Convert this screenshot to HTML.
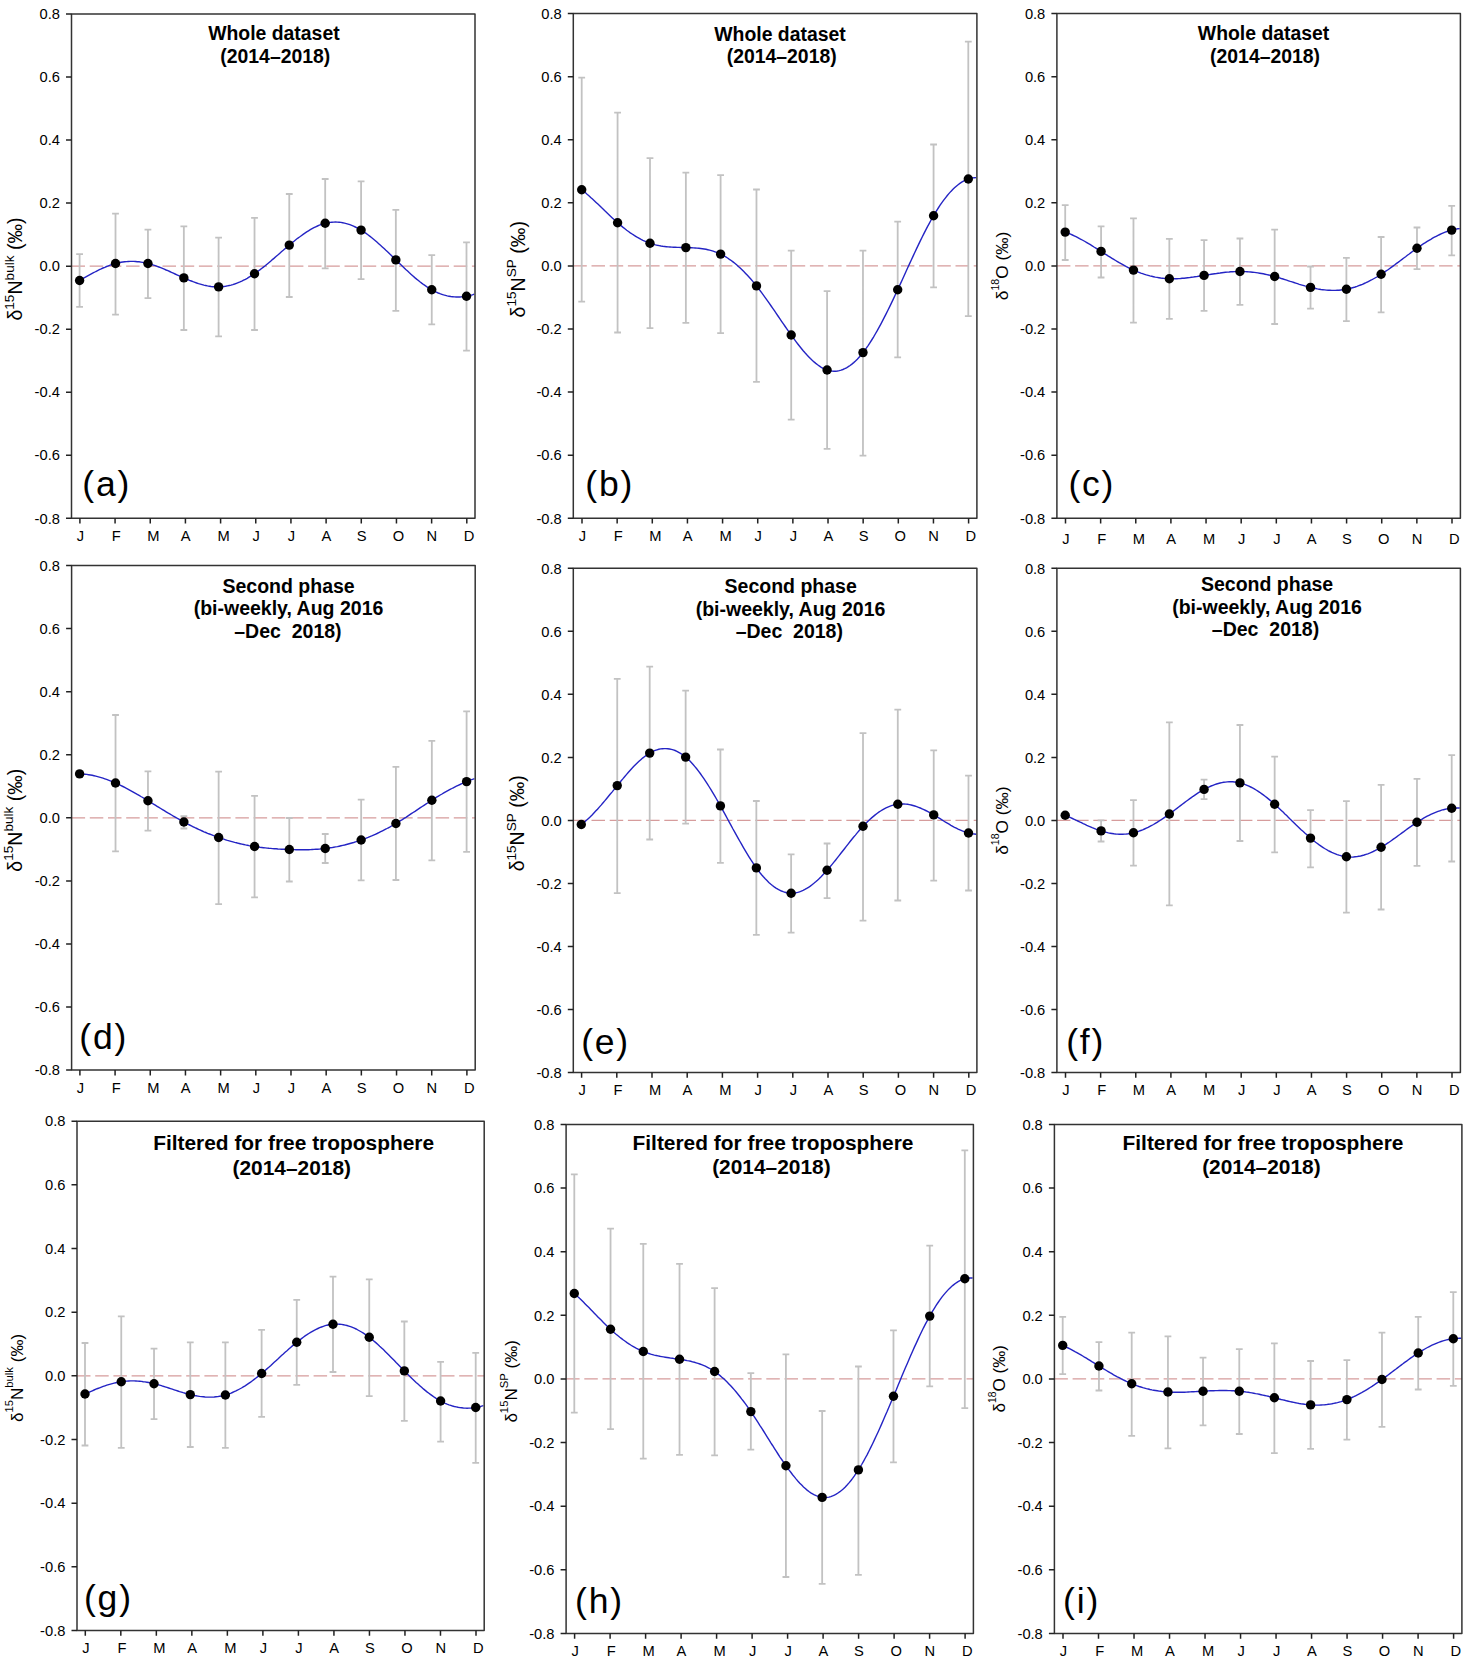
<!DOCTYPE html><html><head><meta charset="utf-8"><style>html,body{margin:0;padding:0;background:#fff}svg{display:block}text{font-family:"Liberation Sans",sans-serif;fill:#000}</style></head><body>
<svg width="1464" height="1659" viewBox="0 0 1464 1659">
<rect width="1464" height="1659" fill="#fff"/>
<g id="pa">
<line x1="71.5" y1="266.15" x2="475" y2="266.15" stroke="#d69c9c" stroke-width="1.2" stroke-dasharray="13.5 4.7"/>
<path d="M79.6 254.2V306.8M76.2 254.2H83M76.2 306.8H83M115.51 213.6V314.7M112.11 213.6H118.91M112.11 314.7H118.91M147.94 229.7V298.2M144.54 229.7H151.34M144.54 298.2H151.34M183.85 226.4V330M180.45 226.4H187.25M180.45 330H187.25M218.61 237.6V336.4M215.21 237.6H222.01M215.21 336.4H222.01M254.52 217.8V330M251.12 217.8H257.92M251.12 330H257.92M289.27 194V297M285.87 194H292.67M285.87 297H292.67M325.18 179V268.4M321.78 179H328.58M321.78 268.4H328.58M361.09 181.3V279.2M357.69 181.3H364.49M357.69 279.2H364.49M395.84 209.8V310.8M392.44 209.8H399.24M392.44 310.8H399.24M431.75 255.2V324.3M428.35 255.2H435.15M428.35 324.3H435.15M466.5 242.4V350.6M463.1 242.4H469.9M463.1 350.6H469.9" stroke="#c2c2c2" stroke-width="1.8" fill="none"/>
<path d="M79.6 280.5 L81.4 279.5 L83.2 278.4 L85.0 277.4 L86.8 276.4 L88.6 275.4 L90.4 274.4 L92.2 273.4 L94.0 272.5 L95.8 271.5 L97.6 270.6 L99.4 269.7 L101.2 268.9 L103.0 268.0 L104.8 267.3 L106.6 266.5 L108.4 265.8 L110.2 265.1 L112.0 264.5 L113.8 264.0 L115.6 263.5 L117.4 263.0 L119.2 262.6 L121.0 262.3 L122.8 262.0 L124.7 261.8 L126.5 261.6 L128.3 261.5 L130.1 261.4 L131.9 261.4 L133.7 261.4 L135.5 261.5 L137.3 261.7 L139.1 261.8 L140.9 262.1 L142.7 262.4 L144.5 262.7 L146.3 263.1 L148.1 263.5 L149.9 264.0 L151.7 264.5 L153.5 265.1 L155.3 265.7 L157.1 266.4 L158.9 267.0 L160.7 267.7 L162.5 268.4 L164.3 269.2 L166.1 270.0 L167.9 270.7 L169.7 271.5 L171.5 272.4 L173.3 273.2 L175.1 274.0 L176.9 274.8 L178.7 275.6 L180.5 276.4 L182.3 277.2 L184.1 278.0 L185.9 278.8 L187.7 279.5 L189.5 280.3 L191.3 281.0 L193.1 281.7 L194.9 282.3 L196.7 283.0 L198.5 283.6 L200.3 284.1 L202.1 284.6 L203.9 285.1 L205.7 285.5 L207.5 285.9 L209.3 286.2 L211.1 286.5 L213.0 286.7 L214.8 286.8 L216.6 286.9 L218.4 286.9 L220.2 286.8 L222.0 286.7 L223.8 286.5 L225.6 286.3 L227.4 285.9 L229.2 285.5 L231.0 285.1 L232.8 284.6 L234.6 284.0 L236.4 283.3 L238.2 282.6 L240.0 281.9 L241.8 281.1 L243.6 280.2 L245.4 279.3 L247.2 278.3 L249.0 277.2 L250.8 276.1 L252.6 275.0 L254.4 273.8 L256.2 272.5 L258.0 271.2 L259.8 269.9 L261.6 268.5 L263.4 267.1 L265.2 265.7 L267.0 264.2 L268.8 262.7 L270.6 261.2 L272.4 259.6 L274.2 258.1 L276.0 256.5 L277.8 255.0 L279.6 253.4 L281.4 251.8 L283.2 250.3 L285.0 248.7 L286.8 247.2 L288.6 245.6 L290.4 244.1 L292.2 242.6 L294.0 241.2 L295.8 239.7 L297.6 238.3 L299.5 237.0 L301.3 235.7 L303.1 234.4 L304.9 233.1 L306.7 231.9 L308.5 230.8 L310.3 229.7 L312.1 228.7 L313.9 227.7 L315.7 226.8 L317.5 226.0 L319.3 225.2 L321.1 224.6 L322.9 224.0 L324.7 223.4 L326.5 223.0 L328.3 222.6 L330.1 222.4 L331.9 222.2 L333.7 222.1 L335.5 222.0 L337.3 222.1 L339.1 222.2 L340.9 222.4 L342.7 222.7 L344.5 223.1 L346.3 223.6 L348.1 224.1 L349.9 224.7 L351.7 225.4 L353.5 226.1 L355.3 227.0 L357.1 227.9 L358.9 228.8 L360.7 229.9 L362.5 231.0 L364.3 232.2 L366.1 233.4 L367.9 234.7 L369.7 236.1 L371.5 237.5 L373.3 239.0 L375.1 240.5 L376.9 242.1 L378.7 243.7 L380.5 245.3 L382.3 246.9 L384.1 248.6 L385.9 250.3 L387.8 252.0 L389.6 253.8 L391.4 255.5 L393.2 257.3 L395.0 259.0 L396.8 260.8 L398.6 262.6 L400.4 264.3 L402.2 266.0 L404.0 267.7 L405.8 269.5 L407.6 271.1 L409.4 272.8 L411.2 274.4 L413.0 276.0 L414.8 277.6 L416.6 279.1 L418.4 280.5 L420.2 282.0 L422.0 283.4 L423.8 284.7 L425.6 285.9 L427.4 287.2 L429.2 288.3 L431.0 289.4 L432.8 290.4 L434.6 291.3 L436.4 292.2 L438.2 293.0 L440.0 293.7 L441.8 294.3 L443.6 294.9 L445.4 295.4 L447.2 295.9 L449.0 296.2 L450.8 296.5 L452.6 296.7 L454.4 296.9 L456.2 297.0 L458.0 297.0 L459.8 297.0 L461.6 296.9 L463.4 296.7 L465.2 296.4 L467.0 296.1 L468.8 295.7 L470.6 295.3 L472.4 294.8 L474.2 294.2" stroke="#2424c4" stroke-width="1.4" fill="none"/>
<circle cx="79.6" cy="280.5" r="4.7" fill="#000"/>
<circle cx="115.51" cy="263.5" r="4.7" fill="#000"/>
<circle cx="147.94" cy="263.5" r="4.7" fill="#000"/>
<circle cx="183.85" cy="277.9" r="4.7" fill="#000"/>
<circle cx="218.61" cy="286.9" r="4.7" fill="#000"/>
<circle cx="254.52" cy="273.7" r="4.7" fill="#000"/>
<circle cx="289.27" cy="245.1" r="4.7" fill="#000"/>
<circle cx="325.18" cy="223.3" r="4.7" fill="#000"/>
<circle cx="361.09" cy="230.1" r="4.7" fill="#000"/>
<circle cx="395.84" cy="259.9" r="4.7" fill="#000"/>
<circle cx="431.75" cy="289.8" r="4.7" fill="#000"/>
<circle cx="466.5" cy="296.2" r="4.7" fill="#000"/>
<path d="M71.5 14H475V518.3H71.5Z" stroke="#333333" stroke-width="1.5" stroke-linejoin="round" fill="none"/>
<path d="M66 14H71.5M66 77.04H71.5M66 140.07H71.5M66 203.11H71.5M66 266.15H71.5M66 329.19H71.5M66 392.22H71.5M66 455.26H71.5M66 518.3H71.5M79.9 518.3V523.6M115.07 518.3V523.6M150.25 518.3V523.6M185.42 518.3V523.6M220.59 518.3V523.6M255.76 518.3V523.6M290.94 518.3V523.6M326.11 518.3V523.6M361.28 518.3V523.6M396.45 518.3V523.6M431.63 518.3V523.6M466.8 518.3V523.6" stroke="#222" stroke-width="1.5" fill="none"/>
<text x="59.9" y="19.2" text-anchor="end" font-size="14.7">0.8</text>
<text x="59.9" y="82.24" text-anchor="end" font-size="14.7">0.6</text>
<text x="59.9" y="145.27" text-anchor="end" font-size="14.7">0.4</text>
<text x="59.9" y="208.31" text-anchor="end" font-size="14.7">0.2</text>
<text x="59.9" y="271.35" text-anchor="end" font-size="14.7">0.0</text>
<text x="59.9" y="334.39" text-anchor="end" font-size="14.7">-0.2</text>
<text x="59.9" y="397.42" text-anchor="end" font-size="14.7">-0.4</text>
<text x="59.9" y="460.46" text-anchor="end" font-size="14.7">-0.6</text>
<text x="59.9" y="523.5" text-anchor="end" font-size="14.7">-0.8</text>
<text x="80.4" y="540.8" text-anchor="middle" font-size="14.7">J</text>
<text x="116.27" y="540.8" text-anchor="middle" font-size="14.7">F</text>
<text x="153.25" y="540.8" text-anchor="middle" font-size="14.7">M</text>
<text x="185.72" y="540.8" text-anchor="middle" font-size="14.7">A</text>
<text x="223.59" y="540.8" text-anchor="middle" font-size="14.7">M</text>
<text x="256.26" y="540.8" text-anchor="middle" font-size="14.7">J</text>
<text x="291.44" y="540.8" text-anchor="middle" font-size="14.7">J</text>
<text x="326.41" y="540.8" text-anchor="middle" font-size="14.7">A</text>
<text x="361.68" y="540.8" text-anchor="middle" font-size="14.7">S</text>
<text x="398.45" y="540.8" text-anchor="middle" font-size="14.7">O</text>
<text x="431.83" y="540.8" text-anchor="middle" font-size="14.7">N</text>
<text x="469.1" y="540.8" text-anchor="middle" font-size="14.7">D</text>
<text x="273.9" y="40" text-anchor="middle" font-size="19.4" font-weight="bold" xml:space="preserve">Whole dataset</text>
<text x="275.3" y="62.6" text-anchor="middle" font-size="19.4" font-weight="bold" xml:space="preserve">(2014–2018)</text>
<text transform="translate(22.3 269) rotate(-90)" x="0" y="0" text-anchor="middle" font-size="19.6" xml:space="preserve">δ<tspan font-size="13.6" dy="-8.7">15</tspan><tspan dy="8.7">N</tspan><tspan font-size="13.6" dy="-8.7">bulk</tspan><tspan dy="8.7"> (‰)</tspan></text>
<text x="82.3" y="495.9" font-size="35.5" letter-spacing="1.8">(a)</text>
</g>
<g id="pb">
<line x1="573.3" y1="265.95" x2="976.9" y2="265.95" stroke="#d69c9c" stroke-width="1.2" stroke-dasharray="13.5 4.7"/>
<path d="M581.7 77.6V301.6M578.3 77.6H585.1M578.3 301.6H585.1M617.58 112.6V332.5M614.18 112.6H620.98M614.18 332.5H620.98M649.99 158.1V328.1M646.59 158.1H653.39M646.59 328.1H653.39M685.87 172.6V322.8M682.47 172.6H689.27M682.47 322.8H689.27M720.6 175.2V333.2M717.2 175.2H724M717.2 333.2H724M756.48 189.5V381.9M753.08 189.5H759.88M753.08 381.9H759.88M791.2 250.6V419.7M787.8 250.6H794.6M787.8 419.7H794.6M827.09 291.1V448.9M823.69 291.1H830.49M823.69 448.9H830.49M862.97 250.6V455.7M859.57 250.6H866.37M859.57 455.7H866.37M897.69 221.7V357.4M894.29 221.7H901.09M894.29 357.4H901.09M933.58 144.5V287.3M930.18 144.5H936.98M930.18 287.3H936.98M968.3 41.6V316.2M964.9 41.6H971.7M964.9 316.2H971.7" stroke="#c2c2c2" stroke-width="1.8" fill="none"/>
<path d="M581.7 189.7 L583.5 191.1 L585.3 192.6 L587.1 194.2 L588.9 195.7 L590.7 197.4 L592.5 199.0 L594.3 200.7 L596.1 202.4 L597.9 204.1 L599.7 205.8 L601.5 207.6 L603.3 209.3 L605.1 211.1 L606.9 212.8 L608.7 214.5 L610.5 216.2 L612.3 217.9 L614.1 219.6 L615.9 221.2 L617.7 222.8 L619.5 224.4 L621.3 225.9 L623.1 227.4 L624.9 228.8 L626.7 230.2 L628.5 231.5 L630.3 232.8 L632.1 234.0 L633.9 235.2 L635.7 236.3 L637.5 237.4 L639.3 238.4 L641.1 239.4 L642.9 240.3 L644.7 241.1 L646.5 241.9 L648.3 242.6 L650.1 243.3 L651.9 243.8 L653.7 244.4 L655.5 244.9 L657.3 245.3 L659.1 245.6 L661.0 246.0 L662.8 246.3 L664.6 246.5 L666.4 246.7 L668.2 246.9 L670.0 247.0 L671.8 247.1 L673.6 247.2 L675.4 247.3 L677.2 247.4 L679.0 247.4 L680.8 247.5 L682.6 247.5 L684.4 247.6 L686.2 247.6 L688.0 247.7 L689.8 247.7 L691.6 247.8 L693.4 247.9 L695.2 248.0 L697.0 248.1 L698.8 248.3 L700.6 248.5 L702.4 248.7 L704.2 249.0 L706.0 249.3 L707.8 249.7 L709.6 250.1 L711.4 250.6 L713.2 251.2 L715.0 251.8 L716.8 252.4 L718.6 253.2 L720.4 254.0 L722.2 254.9 L724.0 255.9 L725.8 256.9 L727.6 258.0 L729.4 259.3 L731.2 260.5 L733.0 261.9 L734.8 263.3 L736.6 264.8 L738.4 266.4 L740.2 268.0 L742.0 269.7 L743.8 271.5 L745.6 273.4 L747.4 275.3 L749.2 277.3 L751.0 279.3 L752.8 281.4 L754.6 283.6 L756.4 285.8 L758.2 288.1 L760.0 290.5 L761.8 292.9 L763.6 295.3 L765.4 297.8 L767.2 300.3 L769.0 302.9 L770.8 305.5 L772.6 308.1 L774.4 310.7 L776.2 313.3 L778.0 316.0 L779.8 318.6 L781.6 321.3 L783.4 323.9 L785.2 326.5 L787.0 329.1 L788.8 331.7 L790.6 334.2 L792.4 336.7 L794.2 339.2 L796.0 341.6 L797.8 344.0 L799.6 346.3 L801.4 348.5 L803.2 350.7 L805.0 352.8 L806.8 354.8 L808.6 356.7 L810.4 358.6 L812.2 360.3 L814.0 361.9 L815.8 363.4 L817.6 364.8 L819.5 366.1 L821.3 367.3 L823.1 368.3 L824.9 369.1 L826.7 369.8 L828.5 370.4 L830.3 370.8 L832.1 371.1 L833.9 371.2 L835.7 371.2 L837.5 371.0 L839.3 370.6 L841.1 370.1 L842.9 369.5 L844.7 368.7 L846.5 367.8 L848.3 366.7 L850.1 365.5 L851.9 364.1 L853.7 362.6 L855.5 361.0 L857.3 359.2 L859.1 357.2 L860.9 355.2 L862.7 353.0 L864.5 350.6 L866.3 348.2 L868.1 345.6 L869.9 342.8 L871.7 340.0 L873.5 337.1 L875.3 334.0 L877.1 330.9 L878.9 327.6 L880.7 324.3 L882.5 320.9 L884.3 317.4 L886.1 313.9 L887.9 310.3 L889.7 306.6 L891.5 302.9 L893.3 299.1 L895.1 295.3 L896.9 291.4 L898.7 287.5 L900.5 283.6 L902.3 279.7 L904.1 275.7 L905.9 271.8 L907.7 267.8 L909.5 263.9 L911.3 260.0 L913.1 256.1 L914.9 252.2 L916.7 248.4 L918.5 244.6 L920.3 240.9 L922.1 237.2 L923.9 233.6 L925.7 230.1 L927.5 226.6 L929.3 223.3 L931.1 220.0 L932.9 216.8 L934.7 213.8 L936.5 210.8 L938.3 208.0 L940.1 205.2 L941.9 202.6 L943.7 200.2 L945.5 197.8 L947.3 195.5 L949.1 193.4 L950.9 191.4 L952.7 189.6 L954.5 187.8 L956.3 186.2 L958.1 184.7 L959.9 183.4 L961.7 182.2 L963.5 181.1 L965.3 180.2 L967.1 179.4 L968.9 178.8 L970.7 178.3 L972.5 177.9 L974.3 177.7 L976.1 177.6" stroke="#2424c4" stroke-width="1.4" fill="none"/>
<circle cx="581.7" cy="189.7" r="4.7" fill="#000"/>
<circle cx="617.58" cy="222.7" r="4.7" fill="#000"/>
<circle cx="649.99" cy="243.2" r="4.7" fill="#000"/>
<circle cx="685.87" cy="247.6" r="4.7" fill="#000"/>
<circle cx="720.6" cy="254.1" r="4.7" fill="#000"/>
<circle cx="756.48" cy="285.9" r="4.7" fill="#000"/>
<circle cx="791.2" cy="335" r="4.7" fill="#000"/>
<circle cx="827.09" cy="370" r="4.7" fill="#000"/>
<circle cx="862.97" cy="352.6" r="4.7" fill="#000"/>
<circle cx="897.69" cy="289.7" r="4.7" fill="#000"/>
<circle cx="933.58" cy="215.7" r="4.7" fill="#000"/>
<circle cx="968.3" cy="179" r="4.7" fill="#000"/>
<path d="M573.3 13.6H976.9V518.3H573.3Z" stroke="#333333" stroke-width="1.5" stroke-linejoin="round" fill="none"/>
<path d="M567.8 13.6H573.3M567.8 76.69H573.3M567.8 139.77H573.3M567.8 202.86H573.3M567.8 265.95H573.3M567.8 329.04H573.3M567.8 392.12H573.3M567.8 455.21H573.3M567.8 518.3H573.3M582 518.3V523.6M617.15 518.3V523.6M652.29 518.3V523.6M687.44 518.3V523.6M722.58 518.3V523.6M757.73 518.3V523.6M792.87 518.3V523.6M828.02 518.3V523.6M863.16 518.3V523.6M898.31 518.3V523.6M933.45 518.3V523.6M968.6 518.3V523.6" stroke="#222" stroke-width="1.5" fill="none"/>
<text x="561.7" y="18.8" text-anchor="end" font-size="14.7">0.8</text>
<text x="561.7" y="81.89" text-anchor="end" font-size="14.7">0.6</text>
<text x="561.7" y="144.97" text-anchor="end" font-size="14.7">0.4</text>
<text x="561.7" y="208.06" text-anchor="end" font-size="14.7">0.2</text>
<text x="561.7" y="271.15" text-anchor="end" font-size="14.7">0.0</text>
<text x="561.7" y="334.24" text-anchor="end" font-size="14.7">-0.2</text>
<text x="561.7" y="397.32" text-anchor="end" font-size="14.7">-0.4</text>
<text x="561.7" y="460.41" text-anchor="end" font-size="14.7">-0.6</text>
<text x="561.7" y="523.5" text-anchor="end" font-size="14.7">-0.8</text>
<text x="582.5" y="540.8" text-anchor="middle" font-size="14.7">J</text>
<text x="618.35" y="540.8" text-anchor="middle" font-size="14.7">F</text>
<text x="655.29" y="540.8" text-anchor="middle" font-size="14.7">M</text>
<text x="687.74" y="540.8" text-anchor="middle" font-size="14.7">A</text>
<text x="725.58" y="540.8" text-anchor="middle" font-size="14.7">M</text>
<text x="758.23" y="540.8" text-anchor="middle" font-size="14.7">J</text>
<text x="793.37" y="540.8" text-anchor="middle" font-size="14.7">J</text>
<text x="828.32" y="540.8" text-anchor="middle" font-size="14.7">A</text>
<text x="863.56" y="540.8" text-anchor="middle" font-size="14.7">S</text>
<text x="900.31" y="540.8" text-anchor="middle" font-size="14.7">O</text>
<text x="933.65" y="540.8" text-anchor="middle" font-size="14.7">N</text>
<text x="970.9" y="540.8" text-anchor="middle" font-size="14.7">D</text>
<text x="780" y="41.1" text-anchor="middle" font-size="19.4" font-weight="bold" xml:space="preserve">Whole dataset</text>
<text x="781.7" y="63.2" text-anchor="middle" font-size="19.4" font-weight="bold" xml:space="preserve">(2014–2018)</text>
<text transform="translate(524.5 269.3) rotate(-90)" x="0" y="0" text-anchor="middle" font-size="19.6" xml:space="preserve">δ<tspan font-size="13.6" dy="-8.7">15</tspan><tspan dy="8.7">N</tspan><tspan font-size="13.6" dy="-8.7">SP</tspan><tspan dy="8.7"> (‰)</tspan></text>
<text x="585.3" y="495.9" font-size="35.5" letter-spacing="1.8">(b)</text>
</g>
<g id="pc">
<line x1="1056.9" y1="265.95" x2="1460.4" y2="265.95" stroke="#d69c9c" stroke-width="1.2" stroke-dasharray="13.5 4.7"/>
<path d="M1065.2 205.1V260M1061.8 205.1H1068.6M1061.8 260H1068.6M1101.07 226.3V277.5M1097.67 226.3H1104.47M1097.67 277.5H1104.47M1133.47 218.4V322.7M1130.07 218.4H1136.87M1130.07 322.7H1136.87M1169.35 238.8V318.9M1165.95 238.8H1172.75M1165.95 318.9H1172.75M1204.06 240.2V310.8M1200.66 240.2H1207.46M1200.66 310.8H1207.46M1239.94 238.5V304.8M1236.54 238.5H1243.34M1236.54 304.8H1243.34M1274.65 229.7V324M1271.25 229.7H1278.05M1271.25 324H1278.05M1310.52 266.5V308.6M1307.12 266.5H1313.92M1307.12 308.6H1313.92M1346.4 257.9V321.1M1343 257.9H1349.8M1343 321.1H1349.8M1381.11 237V312.3M1377.71 237H1384.51M1377.71 312.3H1384.51M1416.98 227.5V269.2M1413.58 227.5H1420.38M1413.58 269.2H1420.38M1451.7 205.9V255.3M1448.3 205.9H1455.1M1448.3 255.3H1455.1" stroke="#c2c2c2" stroke-width="1.8" fill="none"/>
<path d="M1065.2 232.1 L1067.0 232.8 L1068.8 233.5 L1070.6 234.2 L1072.4 235.0 L1074.2 235.8 L1076.0 236.7 L1077.8 237.6 L1079.6 238.6 L1081.4 239.5 L1083.2 240.5 L1085.0 241.5 L1086.8 242.6 L1088.6 243.7 L1090.4 244.7 L1092.2 245.8 L1094.0 247.0 L1095.8 248.1 L1097.6 249.2 L1099.4 250.4 L1101.2 251.5 L1103.0 252.6 L1104.8 253.8 L1106.6 254.9 L1108.4 256.1 L1110.2 257.2 L1112.0 258.3 L1113.8 259.4 L1115.6 260.5 L1117.4 261.6 L1119.2 262.7 L1121.0 263.7 L1122.8 264.7 L1124.6 265.7 L1126.4 266.7 L1128.2 267.6 L1130.0 268.5 L1131.8 269.3 L1133.6 270.2 L1135.4 271.0 L1137.2 271.7 L1139.0 272.4 L1140.8 273.1 L1142.6 273.7 L1144.5 274.3 L1146.3 274.9 L1148.1 275.4 L1149.9 275.9 L1151.7 276.3 L1153.5 276.7 L1155.3 277.1 L1157.1 277.4 L1158.9 277.7 L1160.7 278.0 L1162.5 278.2 L1164.3 278.4 L1166.1 278.5 L1167.9 278.6 L1169.7 278.7 L1171.5 278.7 L1173.3 278.8 L1175.1 278.7 L1176.9 278.7 L1178.7 278.6 L1180.5 278.5 L1182.3 278.3 L1184.1 278.2 L1185.9 278.0 L1187.7 277.8 L1189.5 277.6 L1191.3 277.3 L1193.1 277.1 L1194.9 276.8 L1196.7 276.6 L1198.5 276.3 L1200.3 276.0 L1202.1 275.7 L1203.9 275.4 L1205.7 275.1 L1207.5 274.8 L1209.3 274.6 L1211.1 274.3 L1212.9 274.0 L1214.7 273.7 L1216.5 273.5 L1218.3 273.2 L1220.1 273.0 L1221.9 272.7 L1223.7 272.5 L1225.5 272.3 L1227.3 272.1 L1229.1 272.0 L1230.9 271.8 L1232.7 271.7 L1234.5 271.6 L1236.3 271.6 L1238.1 271.5 L1239.9 271.5 L1241.7 271.5 L1243.5 271.6 L1245.3 271.6 L1247.1 271.7 L1248.9 271.9 L1250.7 272.0 L1252.5 272.2 L1254.3 272.4 L1256.1 272.6 L1257.9 272.9 L1259.7 273.2 L1261.5 273.5 L1263.3 273.8 L1265.1 274.2 L1266.9 274.6 L1268.7 275.0 L1270.5 275.4 L1272.3 275.9 L1274.1 276.4 L1275.9 276.9 L1277.7 277.4 L1279.5 277.9 L1281.3 278.5 L1283.1 279.0 L1284.9 279.6 L1286.7 280.2 L1288.5 280.8 L1290.3 281.4 L1292.1 281.9 L1293.9 282.5 L1295.7 283.1 L1297.5 283.7 L1299.3 284.3 L1301.1 284.8 L1303.0 285.3 L1304.8 285.9 L1306.6 286.4 L1308.4 286.9 L1310.2 287.3 L1312.0 287.7 L1313.8 288.1 L1315.6 288.5 L1317.4 288.9 L1319.2 289.2 L1321.0 289.5 L1322.8 289.7 L1324.6 289.9 L1326.4 290.1 L1328.2 290.2 L1330.0 290.3 L1331.8 290.4 L1333.6 290.4 L1335.4 290.4 L1337.2 290.3 L1339.0 290.2 L1340.8 290.0 L1342.6 289.8 L1344.4 289.5 L1346.2 289.2 L1348.0 288.9 L1349.8 288.5 L1351.6 288.0 L1353.4 287.5 L1355.2 287.0 L1357.0 286.4 L1358.8 285.7 L1360.6 285.0 L1362.4 284.3 L1364.2 283.5 L1366.0 282.7 L1367.8 281.8 L1369.6 280.9 L1371.4 280.0 L1373.2 279.0 L1375.0 278.0 L1376.8 277.0 L1378.6 275.9 L1380.4 274.8 L1382.2 273.6 L1384.0 272.4 L1385.8 271.2 L1387.6 270.0 L1389.4 268.7 L1391.2 267.4 L1393.0 266.1 L1394.8 264.8 L1396.6 263.4 L1398.4 262.1 L1400.2 260.7 L1402.0 259.4 L1403.8 258.0 L1405.6 256.7 L1407.4 255.3 L1409.2 254.0 L1411.0 252.6 L1412.8 251.3 L1414.6 250.0 L1416.4 248.7 L1418.2 247.4 L1420.0 246.2 L1421.8 244.9 L1423.6 243.7 L1425.4 242.6 L1427.2 241.4 L1429.0 240.3 L1430.8 239.3 L1432.6 238.2 L1434.4 237.2 L1436.2 236.3 L1438.0 235.4 L1439.8 234.5 L1441.6 233.7 L1443.4 232.9 L1445.2 232.2 L1447.0 231.5 L1448.8 230.9 L1450.6 230.4 L1452.4 229.9 L1454.2 229.5 L1456.0 229.1 L1457.8 228.8 L1459.7 228.6" stroke="#2424c4" stroke-width="1.4" fill="none"/>
<circle cx="1065.2" cy="232.1" r="4.7" fill="#000"/>
<circle cx="1101.07" cy="251.4" r="4.7" fill="#000"/>
<circle cx="1133.47" cy="270.1" r="4.7" fill="#000"/>
<circle cx="1169.35" cy="278.7" r="4.7" fill="#000"/>
<circle cx="1204.06" cy="275.4" r="4.7" fill="#000"/>
<circle cx="1239.94" cy="271.5" r="4.7" fill="#000"/>
<circle cx="1274.65" cy="276.5" r="4.7" fill="#000"/>
<circle cx="1310.52" cy="287.4" r="4.7" fill="#000"/>
<circle cx="1346.4" cy="289.2" r="4.7" fill="#000"/>
<circle cx="1381.11" cy="274.3" r="4.7" fill="#000"/>
<circle cx="1416.98" cy="248.3" r="4.7" fill="#000"/>
<circle cx="1451.7" cy="230.1" r="4.7" fill="#000"/>
<path d="M1056.9 13.6H1460.4V518.3H1056.9Z" stroke="#333333" stroke-width="1.5" stroke-linejoin="round" fill="none"/>
<path d="M1051.4 13.6H1056.9M1051.4 76.69H1056.9M1051.4 139.77H1056.9M1051.4 202.86H1056.9M1051.4 265.95H1056.9M1051.4 329.04H1056.9M1051.4 392.12H1056.9M1051.4 455.21H1056.9M1051.4 518.3H1056.9M1065.5 518.3V523.6M1100.64 518.3V523.6M1135.77 518.3V523.6M1170.91 518.3V523.6M1206.05 518.3V523.6M1241.18 518.3V523.6M1276.32 518.3V523.6M1311.45 518.3V523.6M1346.59 518.3V523.6M1381.73 518.3V523.6M1416.86 518.3V523.6M1452 518.3V523.6" stroke="#222" stroke-width="1.5" fill="none"/>
<text x="1045.3" y="18.8" text-anchor="end" font-size="14.7">0.8</text>
<text x="1045.3" y="81.89" text-anchor="end" font-size="14.7">0.6</text>
<text x="1045.3" y="144.97" text-anchor="end" font-size="14.7">0.4</text>
<text x="1045.3" y="208.06" text-anchor="end" font-size="14.7">0.2</text>
<text x="1045.3" y="271.15" text-anchor="end" font-size="14.7">0.0</text>
<text x="1045.3" y="334.24" text-anchor="end" font-size="14.7">-0.2</text>
<text x="1045.3" y="397.32" text-anchor="end" font-size="14.7">-0.4</text>
<text x="1045.3" y="460.41" text-anchor="end" font-size="14.7">-0.6</text>
<text x="1045.3" y="523.5" text-anchor="end" font-size="14.7">-0.8</text>
<text x="1066" y="543.5" text-anchor="middle" font-size="14.7">J</text>
<text x="1101.84" y="543.5" text-anchor="middle" font-size="14.7">F</text>
<text x="1138.77" y="543.5" text-anchor="middle" font-size="14.7">M</text>
<text x="1171.21" y="543.5" text-anchor="middle" font-size="14.7">A</text>
<text x="1209.05" y="543.5" text-anchor="middle" font-size="14.7">M</text>
<text x="1241.68" y="543.5" text-anchor="middle" font-size="14.7">J</text>
<text x="1276.82" y="543.5" text-anchor="middle" font-size="14.7">J</text>
<text x="1311.75" y="543.5" text-anchor="middle" font-size="14.7">A</text>
<text x="1346.99" y="543.5" text-anchor="middle" font-size="14.7">S</text>
<text x="1383.73" y="543.5" text-anchor="middle" font-size="14.7">O</text>
<text x="1417.06" y="543.5" text-anchor="middle" font-size="14.7">N</text>
<text x="1454.3" y="543.5" text-anchor="middle" font-size="14.7">D</text>
<text x="1263.6" y="40" text-anchor="middle" font-size="19.4" font-weight="bold" xml:space="preserve">Whole dataset</text>
<text x="1265.1" y="62.6" text-anchor="middle" font-size="19.4" font-weight="bold" xml:space="preserve">(2014–2018)</text>
<text transform="translate(1008 266) rotate(-90)" x="0" y="0" text-anchor="middle" font-size="17.3" xml:space="preserve">δ<tspan font-size="10.5" dy="-9.2">18</tspan><tspan dy="9.2">O</tspan><tspan> (‰)</tspan></text>
<text x="1068.4" y="495.9" font-size="35.5" letter-spacing="1.8">(c)</text>
</g>
<g id="pd">
<line x1="71.6" y1="817.8" x2="475.2" y2="817.8" stroke="#d69c9c" stroke-width="1.2" stroke-dasharray="13.5 4.7"/>
<path d="M115.52 715V851.3M112.12 715H118.92M112.12 851.3H118.92M147.96 771.4V830.7M144.56 771.4H151.36M144.56 830.7H151.36M183.88 816.2V828.5M180.48 816.2H187.28M180.48 828.5H187.28M218.64 771.7V904.1M215.24 771.7H222.04M215.24 904.1H222.04M254.56 795.9V897.3M251.16 795.9H257.96M251.16 897.3H257.96M289.32 818V881.5M285.92 818H292.72M285.92 881.5H292.72M325.24 834V863M321.84 834H328.64M321.84 863H328.64M361.16 799.6V880.3M357.76 799.6H364.56M357.76 880.3H364.56M395.92 766.9V880M392.52 766.9H399.32M392.52 880H399.32M431.84 740.9V860.3M428.44 740.9H435.24M428.44 860.3H435.24M466.6 711.3V851.8M463.2 711.3H470M463.2 851.8H470" stroke="#c2c2c2" stroke-width="1.8" fill="none"/>
<path d="M79.6 773.9 L81.4 774.0 L83.2 774.1 L85.0 774.2 L86.8 774.4 L88.6 774.7 L90.4 775.0 L92.2 775.3 L94.0 775.7 L95.8 776.1 L97.6 776.6 L99.4 777.1 L101.2 777.6 L103.0 778.2 L104.8 778.8 L106.6 779.4 L108.4 780.1 L110.3 780.8 L112.1 781.5 L113.9 782.3 L115.7 783.1 L117.5 783.9 L119.3 784.7 L121.1 785.6 L122.9 786.5 L124.7 787.4 L126.5 788.4 L128.3 789.3 L130.1 790.3 L131.9 791.3 L133.7 792.3 L135.5 793.3 L137.3 794.4 L139.1 795.4 L140.9 796.5 L142.7 797.5 L144.5 798.6 L146.3 799.7 L148.1 800.8 L149.9 801.9 L151.7 803.0 L153.5 804.1 L155.3 805.2 L157.1 806.3 L158.9 807.4 L160.7 808.5 L162.5 809.6 L164.3 810.7 L166.1 811.8 L167.9 812.9 L169.7 813.9 L171.6 815.0 L173.4 816.1 L175.2 817.1 L177.0 818.2 L178.8 819.2 L180.6 820.2 L182.4 821.2 L184.2 822.2 L186.0 823.1 L187.8 824.1 L189.6 825.0 L191.4 825.9 L193.2 826.8 L195.0 827.7 L196.8 828.5 L198.6 829.4 L200.4 830.2 L202.2 831.0 L204.0 831.8 L205.8 832.5 L207.6 833.3 L209.4 834.0 L211.2 834.7 L213.0 835.4 L214.8 836.1 L216.6 836.8 L218.4 837.4 L220.2 838.0 L222.0 838.7 L223.8 839.2 L225.6 839.8 L227.4 840.4 L229.2 840.9 L231.0 841.4 L232.9 841.9 L234.7 842.4 L236.5 842.8 L238.3 843.3 L240.1 843.7 L241.9 844.1 L243.7 844.5 L245.5 844.9 L247.3 845.2 L249.1 845.6 L250.9 845.9 L252.7 846.2 L254.5 846.5 L256.3 846.8 L258.1 847.0 L259.9 847.3 L261.7 847.5 L263.5 847.7 L265.3 847.9 L267.1 848.1 L268.9 848.3 L270.7 848.4 L272.5 848.6 L274.3 848.7 L276.1 848.8 L277.9 849.0 L279.7 849.1 L281.5 849.2 L283.3 849.3 L285.1 849.3 L286.9 849.4 L288.7 849.5 L290.5 849.5 L292.4 849.6 L294.2 849.6 L296.0 849.7 L297.8 849.7 L299.6 849.7 L301.4 849.7 L303.2 849.7 L305.0 849.7 L306.8 849.7 L308.6 849.7 L310.4 849.6 L312.2 849.5 L314.0 849.4 L315.8 849.3 L317.6 849.2 L319.4 849.1 L321.2 848.9 L323.0 848.7 L324.8 848.6 L326.6 848.3 L328.4 848.1 L330.2 847.8 L332.0 847.6 L333.8 847.2 L335.6 846.9 L337.4 846.6 L339.2 846.2 L341.0 845.8 L342.8 845.4 L344.6 845.0 L346.4 844.5 L348.2 844.0 L350.0 843.5 L351.8 843.0 L353.7 842.5 L355.5 841.9 L357.3 841.3 L359.1 840.7 L360.9 840.1 L362.7 839.5 L364.5 838.8 L366.3 838.1 L368.1 837.4 L369.9 836.6 L371.7 835.9 L373.5 835.1 L375.3 834.3 L377.1 833.5 L378.9 832.6 L380.7 831.7 L382.5 830.8 L384.3 829.9 L386.1 829.0 L387.9 828.0 L389.7 827.1 L391.5 826.0 L393.3 825.0 L395.1 824.0 L396.9 822.9 L398.7 821.8 L400.5 820.7 L402.3 819.6 L404.1 818.4 L405.9 817.3 L407.7 816.1 L409.5 814.9 L411.3 813.7 L413.1 812.5 L415.0 811.3 L416.8 810.1 L418.6 808.9 L420.4 807.7 L422.2 806.5 L424.0 805.3 L425.8 804.1 L427.6 803.0 L429.4 801.8 L431.2 800.6 L433.0 799.5 L434.8 798.3 L436.6 797.2 L438.4 796.1 L440.2 795.0 L442.0 794.0 L443.8 792.9 L445.6 791.9 L447.4 790.9 L449.2 789.9 L451.0 789.0 L452.8 788.0 L454.6 787.1 L456.4 786.2 L458.2 785.3 L460.0 784.5 L461.8 783.6 L463.6 782.9 L465.4 782.1 L467.2 781.3 L469.0 780.6 L470.8 779.9 L472.6 779.3 L474.4 778.7" stroke="#2424c4" stroke-width="1.4" fill="none"/>
<circle cx="79.6" cy="773.9" r="4.7" fill="#000"/>
<circle cx="115.52" cy="783" r="4.7" fill="#000"/>
<circle cx="147.96" cy="800.7" r="4.7" fill="#000"/>
<circle cx="183.88" cy="822" r="4.7" fill="#000"/>
<circle cx="218.64" cy="837.5" r="4.7" fill="#000"/>
<circle cx="254.56" cy="846.5" r="4.7" fill="#000"/>
<circle cx="289.32" cy="849.5" r="4.7" fill="#000"/>
<circle cx="325.24" cy="848.5" r="4.7" fill="#000"/>
<circle cx="361.16" cy="840" r="4.7" fill="#000"/>
<circle cx="395.92" cy="823.5" r="4.7" fill="#000"/>
<circle cx="431.84" cy="800.2" r="4.7" fill="#000"/>
<circle cx="466.6" cy="781.6" r="4.7" fill="#000"/>
<path d="M71.6 565.5H475.2V1070.1H71.6Z" stroke="#333333" stroke-width="1.5" stroke-linejoin="round" fill="none"/>
<path d="M66.1 565.5H71.6M66.1 628.58H71.6M66.1 691.65H71.6M66.1 754.72H71.6M66.1 817.8H71.6M66.1 880.88H71.6M66.1 943.95H71.6M66.1 1007.02H71.6M66.1 1070.1H71.6M79.9 1070.1V1075.4M115.08 1070.1V1075.4M150.26 1070.1V1075.4M185.45 1070.1V1075.4M220.63 1070.1V1075.4M255.81 1070.1V1075.4M290.99 1070.1V1075.4M326.17 1070.1V1075.4M361.35 1070.1V1075.4M396.54 1070.1V1075.4M431.72 1070.1V1075.4M466.9 1070.1V1075.4" stroke="#222" stroke-width="1.5" fill="none"/>
<text x="60" y="570.7" text-anchor="end" font-size="14.7">0.8</text>
<text x="60" y="633.78" text-anchor="end" font-size="14.7">0.6</text>
<text x="60" y="696.85" text-anchor="end" font-size="14.7">0.4</text>
<text x="60" y="759.92" text-anchor="end" font-size="14.7">0.2</text>
<text x="60" y="823" text-anchor="end" font-size="14.7">0.0</text>
<text x="60" y="886.08" text-anchor="end" font-size="14.7">-0.2</text>
<text x="60" y="949.15" text-anchor="end" font-size="14.7">-0.4</text>
<text x="60" y="1012.22" text-anchor="end" font-size="14.7">-0.6</text>
<text x="60" y="1075.3" text-anchor="end" font-size="14.7">-0.8</text>
<text x="80.4" y="1092.6" text-anchor="middle" font-size="14.7">J</text>
<text x="116.28" y="1092.6" text-anchor="middle" font-size="14.7">F</text>
<text x="153.26" y="1092.6" text-anchor="middle" font-size="14.7">M</text>
<text x="185.75" y="1092.6" text-anchor="middle" font-size="14.7">A</text>
<text x="223.63" y="1092.6" text-anchor="middle" font-size="14.7">M</text>
<text x="256.31" y="1092.6" text-anchor="middle" font-size="14.7">J</text>
<text x="291.49" y="1092.6" text-anchor="middle" font-size="14.7">J</text>
<text x="326.47" y="1092.6" text-anchor="middle" font-size="14.7">A</text>
<text x="361.75" y="1092.6" text-anchor="middle" font-size="14.7">S</text>
<text x="398.54" y="1092.6" text-anchor="middle" font-size="14.7">O</text>
<text x="431.92" y="1092.6" text-anchor="middle" font-size="14.7">N</text>
<text x="469.2" y="1092.6" text-anchor="middle" font-size="14.7">D</text>
<text x="288.6" y="592.5" text-anchor="middle" font-size="19.5" font-weight="bold" xml:space="preserve">Second phase</text>
<text x="288.5" y="615" text-anchor="middle" font-size="19.5" font-weight="bold" xml:space="preserve">(bi-weekly, Aug 2016</text>
<text x="287.9" y="637.6" text-anchor="middle" font-size="19.5" font-weight="bold" xml:space="preserve">–Dec  2018)</text>
<text transform="translate(22 820.2) rotate(-90)" x="0" y="0" text-anchor="middle" font-size="19.5" xml:space="preserve">δ<tspan font-size="13.6" dy="-8.7">15</tspan><tspan dy="8.7">N</tspan><tspan font-size="13.6" dy="-8.7">bulk</tspan><tspan dy="8.7"> (‰)</tspan></text>
<text x="79.3" y="1048.9" font-size="35.5" letter-spacing="1.8">(d)</text>
</g>
<g id="pe">
<line x1="573.3" y1="820.4" x2="976.9" y2="820.4" stroke="#d69c9c" stroke-width="1.2" stroke-dasharray="13.5 4.7"/>
<path d="M617.24 678.9V893.2M613.84 678.9H620.64M613.84 893.2H620.64M649.7 666.6V839.5M646.3 666.6H653.1M646.3 839.5H653.1M685.64 690.7V823.6M682.24 690.7H689.04M682.24 823.6H689.04M720.41 749.5V862.8M717.01 749.5H723.81M717.01 862.8H723.81M756.35 801V934.8M752.95 801H759.75M752.95 934.8H759.75M791.13 854.3V932.6M787.73 854.3H794.53M787.73 932.6H794.53M827.07 843.5V898.1M823.67 843.5H830.47M823.67 898.1H830.47M863.01 733.2V920.7M859.61 733.2H866.41M859.61 920.7H866.41M897.78 709.7V900.5M894.38 709.7H901.18M894.38 900.5H901.18M933.72 750.4V880.6M930.32 750.4H937.12M930.32 880.6H937.12M968.5 775.7V890.5M965.1 775.7H971.9M965.1 890.5H971.9" stroke="#c2c2c2" stroke-width="1.8" fill="none"/>
<path d="M581.3 824.5 L583.1 823.1 L584.9 821.6 L586.7 820.1 L588.5 818.4 L590.3 816.7 L592.1 814.9 L593.9 813.0 L595.7 811.1 L597.5 809.2 L599.3 807.1 L601.1 805.1 L602.9 803.0 L604.7 800.9 L606.5 798.7 L608.3 796.5 L610.1 794.3 L612.0 792.1 L613.8 789.9 L615.6 787.7 L617.4 785.5 L619.2 783.2 L621.0 781.0 L622.8 778.9 L624.6 776.7 L626.4 774.6 L628.2 772.5 L630.0 770.5 L631.8 768.5 L633.6 766.6 L635.4 764.8 L637.2 763.0 L639.0 761.3 L640.8 759.7 L642.6 758.1 L644.4 756.7 L646.2 755.4 L648.0 754.1 L649.8 753.0 L651.6 752.0 L653.4 751.2 L655.2 750.4 L657.0 749.8 L658.8 749.3 L660.6 748.9 L662.4 748.7 L664.2 748.6 L666.0 748.6 L667.8 748.7 L669.6 749.0 L671.4 749.4 L673.3 749.9 L675.1 750.5 L676.9 751.3 L678.7 752.3 L680.5 753.3 L682.3 754.5 L684.1 755.8 L685.9 757.3 L687.7 758.9 L689.5 760.6 L691.3 762.5 L693.1 764.5 L694.9 766.6 L696.7 768.8 L698.5 771.1 L700.3 773.5 L702.1 776.1 L703.9 778.7 L705.7 781.4 L707.5 784.1 L709.3 787.0 L711.1 789.9 L712.9 792.9 L714.7 795.9 L716.5 799.0 L718.3 802.2 L720.1 805.4 L721.9 808.6 L723.7 811.9 L725.5 815.2 L727.3 818.5 L729.1 821.8 L730.9 825.1 L732.7 828.5 L734.6 831.8 L736.4 835.1 L738.2 838.3 L740.0 841.5 L741.8 844.7 L743.6 847.8 L745.4 850.9 L747.2 853.9 L749.0 856.8 L750.8 859.7 L752.6 862.4 L754.4 865.1 L756.2 867.7 L758.0 870.1 L759.8 872.5 L761.6 874.7 L763.4 876.8 L765.2 878.8 L767.0 880.6 L768.8 882.4 L770.6 884.0 L772.4 885.5 L774.2 886.9 L776.0 888.1 L777.8 889.2 L779.6 890.2 L781.4 891.0 L783.2 891.7 L785.0 892.3 L786.8 892.7 L788.6 893.0 L790.4 893.2 L792.2 893.2 L794.1 893.0 L795.9 892.8 L797.7 892.4 L799.5 891.8 L801.3 891.1 L803.1 890.3 L804.9 889.4 L806.7 888.4 L808.5 887.3 L810.3 886.1 L812.1 884.7 L813.9 883.3 L815.7 881.8 L817.5 880.2 L819.3 878.5 L821.1 876.7 L822.9 874.8 L824.7 872.9 L826.5 870.9 L828.3 868.9 L830.1 866.8 L831.9 864.6 L833.7 862.4 L835.5 860.2 L837.3 857.9 L839.1 855.6 L840.9 853.3 L842.7 851.0 L844.5 848.7 L846.3 846.4 L848.1 844.1 L849.9 841.8 L851.7 839.5 L853.5 837.3 L855.4 835.1 L857.2 832.9 L859.0 830.8 L860.8 828.8 L862.6 826.8 L864.4 824.9 L866.2 823.0 L868.0 821.2 L869.8 819.5 L871.6 817.9 L873.4 816.4 L875.2 814.9 L877.0 813.5 L878.8 812.2 L880.6 811.0 L882.4 809.9 L884.2 808.9 L886.0 807.9 L887.8 807.1 L889.6 806.4 L891.4 805.7 L893.2 805.1 L895.0 804.7 L896.8 804.3 L898.6 804.1 L900.4 804.0 L902.2 803.9 L904.0 804.0 L905.8 804.1 L907.6 804.3 L909.4 804.6 L911.2 805.0 L913.0 805.5 L914.8 806.0 L916.7 806.6 L918.5 807.3 L920.3 808.0 L922.1 808.8 L923.9 809.6 L925.7 810.5 L927.5 811.4 L929.3 812.4 L931.1 813.4 L932.9 814.4 L934.7 815.5 L936.5 816.5 L938.3 817.6 L940.1 818.7 L941.9 819.8 L943.7 821.0 L945.5 822.1 L947.3 823.1 L949.1 824.2 L950.9 825.3 L952.7 826.3 L954.5 827.3 L956.3 828.2 L958.1 829.1 L959.9 829.9 L961.7 830.7 L963.5 831.4 L965.3 832.1 L967.1 832.6 L968.9 833.1 L970.7 833.5 L972.5 833.8 L974.3 834.0 L976.1 834.2" stroke="#2424c4" stroke-width="1.4" fill="none"/>
<circle cx="581.3" cy="824.5" r="4.7" fill="#000"/>
<circle cx="617.24" cy="785.6" r="4.7" fill="#000"/>
<circle cx="649.7" cy="753.1" r="4.7" fill="#000"/>
<circle cx="685.64" cy="757.1" r="4.7" fill="#000"/>
<circle cx="720.41" cy="805.9" r="4.7" fill="#000"/>
<circle cx="756.35" cy="867.9" r="4.7" fill="#000"/>
<circle cx="791.13" cy="893.2" r="4.7" fill="#000"/>
<circle cx="827.07" cy="870.3" r="4.7" fill="#000"/>
<circle cx="863.01" cy="826.3" r="4.7" fill="#000"/>
<circle cx="897.78" cy="804.2" r="4.7" fill="#000"/>
<circle cx="933.72" cy="814.9" r="4.7" fill="#000"/>
<circle cx="968.5" cy="833" r="4.7" fill="#000"/>
<path d="M573.3 568.3H976.9V1072.5H573.3Z" stroke="#333333" stroke-width="1.5" stroke-linejoin="round" fill="none"/>
<path d="M567.8 568.3H573.3M567.8 631.32H573.3M567.8 694.35H573.3M567.8 757.38H573.3M567.8 820.4H573.3M567.8 883.42H573.3M567.8 946.45H573.3M567.8 1009.48H573.3M567.8 1072.5H573.3M581.6 1072.5V1077.8M616.8 1072.5V1077.8M652 1072.5V1077.8M687.2 1072.5V1077.8M722.4 1072.5V1077.8M757.6 1072.5V1077.8M792.8 1072.5V1077.8M828 1072.5V1077.8M863.2 1072.5V1077.8M898.4 1072.5V1077.8M933.6 1072.5V1077.8M968.8 1072.5V1077.8" stroke="#222" stroke-width="1.5" fill="none"/>
<text x="561.7" y="573.5" text-anchor="end" font-size="14.7">0.8</text>
<text x="561.7" y="636.52" text-anchor="end" font-size="14.7">0.6</text>
<text x="561.7" y="699.55" text-anchor="end" font-size="14.7">0.4</text>
<text x="561.7" y="762.58" text-anchor="end" font-size="14.7">0.2</text>
<text x="561.7" y="825.6" text-anchor="end" font-size="14.7">0.0</text>
<text x="561.7" y="888.62" text-anchor="end" font-size="14.7">-0.2</text>
<text x="561.7" y="951.65" text-anchor="end" font-size="14.7">-0.4</text>
<text x="561.7" y="1014.68" text-anchor="end" font-size="14.7">-0.6</text>
<text x="561.7" y="1077.7" text-anchor="end" font-size="14.7">-0.8</text>
<text x="582.1" y="1095" text-anchor="middle" font-size="14.7">J</text>
<text x="618" y="1095" text-anchor="middle" font-size="14.7">F</text>
<text x="655" y="1095" text-anchor="middle" font-size="14.7">M</text>
<text x="687.5" y="1095" text-anchor="middle" font-size="14.7">A</text>
<text x="725.4" y="1095" text-anchor="middle" font-size="14.7">M</text>
<text x="758.1" y="1095" text-anchor="middle" font-size="14.7">J</text>
<text x="793.3" y="1095" text-anchor="middle" font-size="14.7">J</text>
<text x="828.3" y="1095" text-anchor="middle" font-size="14.7">A</text>
<text x="863.6" y="1095" text-anchor="middle" font-size="14.7">S</text>
<text x="900.4" y="1095" text-anchor="middle" font-size="14.7">O</text>
<text x="933.8" y="1095" text-anchor="middle" font-size="14.7">N</text>
<text x="971.1" y="1095" text-anchor="middle" font-size="14.7">D</text>
<text x="790.7" y="593.2" text-anchor="middle" font-size="19.5" font-weight="bold" xml:space="preserve">Second phase</text>
<text x="790.5" y="615.5" text-anchor="middle" font-size="19.5" font-weight="bold" xml:space="preserve">(bi-weekly, Aug 2016</text>
<text x="789.3" y="637.6" text-anchor="middle" font-size="19.5" font-weight="bold" xml:space="preserve">–Dec  2018)</text>
<text transform="translate(524.3 823.3) rotate(-90)" x="0" y="0" text-anchor="middle" font-size="19.5" xml:space="preserve">δ<tspan font-size="13.6" dy="-8.7">15</tspan><tspan dy="8.7">N</tspan><tspan font-size="13.6" dy="-8.7">SP</tspan><tspan dy="8.7"> (‰)</tspan></text>
<text x="581.2" y="1053.9" font-size="35.5" letter-spacing="1.8">(e)</text>
</g>
<g id="pf">
<line x1="1056.9" y1="820.4" x2="1460.4" y2="820.4" stroke="#d69c9c" stroke-width="1.2" stroke-dasharray="13.5 4.7"/>
<path d="M1101.07 820.4V841.5M1097.67 820.4H1104.47M1097.67 841.5H1104.47M1133.47 800.1V865.6M1130.07 800.1H1136.87M1130.07 865.6H1136.87M1169.35 722.4V905.4M1165.95 722.4H1172.75M1165.95 905.4H1172.75M1204.06 779.6V799.1M1200.66 779.6H1207.46M1200.66 799.1H1207.46M1239.94 725V841M1236.54 725H1243.34M1236.54 841H1243.34M1274.65 756.7V852.4M1271.25 756.7H1278.05M1271.25 852.4H1278.05M1310.52 810.1V867.4M1307.12 810.1H1313.92M1307.12 867.4H1313.92M1346.4 801.1V912.7M1343 801.1H1349.8M1343 912.7H1349.8M1381.11 784.8V909.5M1377.71 784.8H1384.51M1377.71 909.5H1384.51M1416.98 778.9V865.9M1413.58 778.9H1420.38M1413.58 865.9H1420.38M1451.7 755.1V861.5M1448.3 755.1H1455.1M1448.3 861.5H1455.1" stroke="#c2c2c2" stroke-width="1.8" fill="none"/>
<path d="M1065.2 815.3 L1067.0 816.1 L1068.8 816.9 L1070.6 817.7 L1072.4 818.5 L1074.2 819.3 L1076.0 820.2 L1077.8 821.0 L1079.6 821.9 L1081.4 822.7 L1083.2 823.6 L1085.0 824.4 L1086.8 825.3 L1088.6 826.1 L1090.4 826.8 L1092.2 827.6 L1094.0 828.3 L1095.8 829.1 L1097.6 829.7 L1099.4 830.4 L1101.2 830.9 L1103.0 831.5 L1104.8 832.0 L1106.6 832.4 L1108.4 832.9 L1110.2 833.2 L1112.0 833.5 L1113.8 833.8 L1115.6 834.0 L1117.4 834.1 L1119.2 834.2 L1121.0 834.2 L1122.8 834.2 L1124.6 834.1 L1126.4 834.0 L1128.2 833.8 L1130.0 833.5 L1131.8 833.2 L1133.6 832.8 L1135.4 832.3 L1137.2 831.8 L1139.0 831.2 L1140.8 830.5 L1142.6 829.8 L1144.5 829.0 L1146.3 828.2 L1148.1 827.4 L1149.9 826.4 L1151.7 825.5 L1153.5 824.5 L1155.3 823.4 L1157.1 822.3 L1158.9 821.2 L1160.7 820.0 L1162.5 818.8 L1164.3 817.6 L1166.1 816.4 L1167.9 815.1 L1169.7 813.8 L1171.5 812.4 L1173.3 811.1 L1175.1 809.7 L1176.9 808.4 L1178.7 807.0 L1180.5 805.6 L1182.3 804.2 L1184.1 802.9 L1185.9 801.5 L1187.7 800.2 L1189.5 798.9 L1191.3 797.6 L1193.1 796.3 L1194.9 795.1 L1196.7 793.9 L1198.5 792.7 L1200.3 791.6 L1202.1 790.5 L1203.9 789.5 L1205.7 788.5 L1207.5 787.6 L1209.3 786.8 L1211.1 786.0 L1212.9 785.3 L1214.7 784.6 L1216.5 784.0 L1218.3 783.5 L1220.1 783.0 L1221.9 782.6 L1223.7 782.3 L1225.5 782.1 L1227.3 781.9 L1229.1 781.8 L1230.9 781.8 L1232.7 781.8 L1234.5 782.0 L1236.3 782.2 L1238.1 782.5 L1239.9 782.9 L1241.7 783.4 L1243.5 783.9 L1245.3 784.6 L1247.1 785.3 L1248.9 786.1 L1250.7 787.0 L1252.5 787.9 L1254.3 788.9 L1256.1 790.0 L1257.9 791.1 L1259.7 792.3 L1261.5 793.6 L1263.3 794.9 L1265.1 796.2 L1266.9 797.6 L1268.7 799.1 L1270.5 800.6 L1272.3 802.2 L1274.1 803.7 L1275.9 805.4 L1277.7 807.0 L1279.5 808.7 L1281.3 810.4 L1283.1 812.1 L1284.9 813.9 L1286.7 815.6 L1288.5 817.4 L1290.3 819.2 L1292.1 820.9 L1293.9 822.7 L1295.7 824.5 L1297.5 826.2 L1299.3 827.9 L1301.1 829.7 L1303.0 831.3 L1304.8 833.0 L1306.6 834.6 L1308.4 836.2 L1310.2 837.8 L1312.0 839.3 L1313.8 840.8 L1315.6 842.2 L1317.4 843.5 L1319.2 844.9 L1321.0 846.1 L1322.8 847.3 L1324.6 848.5 L1326.4 849.5 L1328.2 850.6 L1330.0 851.5 L1331.8 852.4 L1333.6 853.2 L1335.4 853.9 L1337.2 854.6 L1339.0 855.2 L1340.8 855.7 L1342.6 856.2 L1344.4 856.5 L1346.2 856.8 L1348.0 857.0 L1349.8 857.0 L1351.6 857.1 L1353.4 857.0 L1355.2 856.8 L1357.0 856.6 L1358.8 856.3 L1360.6 856.0 L1362.4 855.5 L1364.2 855.0 L1366.0 854.4 L1367.8 853.8 L1369.6 853.1 L1371.4 852.3 L1373.2 851.5 L1375.0 850.6 L1376.8 849.7 L1378.6 848.7 L1380.4 847.7 L1382.2 846.6 L1384.0 845.5 L1385.8 844.4 L1387.6 843.2 L1389.4 842.0 L1391.2 840.7 L1393.0 839.4 L1394.8 838.2 L1396.6 836.9 L1398.4 835.5 L1400.2 834.2 L1402.0 832.9 L1403.8 831.6 L1405.6 830.2 L1407.4 828.9 L1409.2 827.6 L1411.0 826.4 L1412.8 825.1 L1414.6 823.9 L1416.4 822.7 L1418.2 821.5 L1420.0 820.4 L1421.8 819.3 L1423.6 818.2 L1425.4 817.2 L1427.2 816.2 L1429.0 815.3 L1430.8 814.4 L1432.6 813.6 L1434.4 812.8 L1436.2 812.1 L1438.0 811.4 L1439.8 810.8 L1441.6 810.2 L1443.4 809.7 L1445.2 809.3 L1447.0 808.9 L1448.8 808.6 L1450.6 808.3 L1452.4 808.1 L1454.2 808.0 L1456.0 808.0 L1457.8 808.0 L1459.7 808.0" stroke="#2424c4" stroke-width="1.4" fill="none"/>
<circle cx="1065.2" cy="815.3" r="4.7" fill="#000"/>
<circle cx="1101.07" cy="830.9" r="4.7" fill="#000"/>
<circle cx="1133.47" cy="832.8" r="4.7" fill="#000"/>
<circle cx="1169.35" cy="814" r="4.7" fill="#000"/>
<circle cx="1204.06" cy="789.4" r="4.7" fill="#000"/>
<circle cx="1239.94" cy="782.9" r="4.7" fill="#000"/>
<circle cx="1274.65" cy="804.2" r="4.7" fill="#000"/>
<circle cx="1310.52" cy="838.1" r="4.7" fill="#000"/>
<circle cx="1346.4" cy="856.8" r="4.7" fill="#000"/>
<circle cx="1381.11" cy="847.3" r="4.7" fill="#000"/>
<circle cx="1416.98" cy="822.3" r="4.7" fill="#000"/>
<circle cx="1451.7" cy="808.2" r="4.7" fill="#000"/>
<path d="M1056.9 568.3H1460.4V1072.5H1056.9Z" stroke="#333333" stroke-width="1.5" stroke-linejoin="round" fill="none"/>
<path d="M1051.4 568.3H1056.9M1051.4 631.32H1056.9M1051.4 694.35H1056.9M1051.4 757.38H1056.9M1051.4 820.4H1056.9M1051.4 883.42H1056.9M1051.4 946.45H1056.9M1051.4 1009.48H1056.9M1051.4 1072.5H1056.9M1065.5 1072.5V1077.8M1100.64 1072.5V1077.8M1135.77 1072.5V1077.8M1170.91 1072.5V1077.8M1206.05 1072.5V1077.8M1241.18 1072.5V1077.8M1276.32 1072.5V1077.8M1311.45 1072.5V1077.8M1346.59 1072.5V1077.8M1381.73 1072.5V1077.8M1416.86 1072.5V1077.8M1452 1072.5V1077.8" stroke="#222" stroke-width="1.5" fill="none"/>
<text x="1045.3" y="573.5" text-anchor="end" font-size="14.7">0.8</text>
<text x="1045.3" y="636.52" text-anchor="end" font-size="14.7">0.6</text>
<text x="1045.3" y="699.55" text-anchor="end" font-size="14.7">0.4</text>
<text x="1045.3" y="762.58" text-anchor="end" font-size="14.7">0.2</text>
<text x="1045.3" y="825.6" text-anchor="end" font-size="14.7">0.0</text>
<text x="1045.3" y="888.62" text-anchor="end" font-size="14.7">-0.2</text>
<text x="1045.3" y="951.65" text-anchor="end" font-size="14.7">-0.4</text>
<text x="1045.3" y="1014.68" text-anchor="end" font-size="14.7">-0.6</text>
<text x="1045.3" y="1077.7" text-anchor="end" font-size="14.7">-0.8</text>
<text x="1066" y="1095" text-anchor="middle" font-size="14.7">J</text>
<text x="1101.84" y="1095" text-anchor="middle" font-size="14.7">F</text>
<text x="1138.77" y="1095" text-anchor="middle" font-size="14.7">M</text>
<text x="1171.21" y="1095" text-anchor="middle" font-size="14.7">A</text>
<text x="1209.05" y="1095" text-anchor="middle" font-size="14.7">M</text>
<text x="1241.68" y="1095" text-anchor="middle" font-size="14.7">J</text>
<text x="1276.82" y="1095" text-anchor="middle" font-size="14.7">J</text>
<text x="1311.75" y="1095" text-anchor="middle" font-size="14.7">A</text>
<text x="1346.99" y="1095" text-anchor="middle" font-size="14.7">S</text>
<text x="1383.73" y="1095" text-anchor="middle" font-size="14.7">O</text>
<text x="1417.06" y="1095" text-anchor="middle" font-size="14.7">N</text>
<text x="1454.3" y="1095" text-anchor="middle" font-size="14.7">D</text>
<text x="1267.1" y="591" text-anchor="middle" font-size="19.5" font-weight="bold" xml:space="preserve">Second phase</text>
<text x="1267" y="613.6" text-anchor="middle" font-size="19.5" font-weight="bold" xml:space="preserve">(bi-weekly, Aug 2016</text>
<text x="1265.5" y="636.1" text-anchor="middle" font-size="19.5" font-weight="bold" xml:space="preserve">–Dec  2018)</text>
<text transform="translate(1008 820.6) rotate(-90)" x="0" y="0" text-anchor="middle" font-size="17.3" xml:space="preserve">δ<tspan font-size="10.5" dy="-9.2">18</tspan><tspan dy="9.2">O</tspan><tspan> (‰)</tspan></text>
<text x="1066.2" y="1053.9" font-size="35.5" letter-spacing="1.8">(f)</text>
</g>
<g id="pg">
<line x1="77" y1="1375.85" x2="484.2" y2="1375.85" stroke="#d69c9c" stroke-width="1.2" stroke-dasharray="13.5 4.7"/>
<path d="M85 1343V1445.5M81.6 1343H88.4M81.6 1445.5H88.4M121.26 1316.3V1447.8M117.86 1316.3H124.66M117.86 1447.8H124.66M154.02 1348.7V1419.1M150.62 1348.7H157.42M150.62 1419.1H157.42M190.28 1342.3V1447M186.88 1342.3H193.68M186.88 1447H193.68M225.37 1342.3V1447.8M221.97 1342.3H228.77M221.97 1447.8H228.77M261.63 1329.9V1416.9M258.23 1329.9H265.03M258.23 1416.9H265.03M296.73 1299.8V1384.8M293.33 1299.8H300.13M293.33 1384.8H300.13M332.99 1276.7V1372M329.59 1276.7H336.39M329.59 1372H336.39M369.25 1279.3V1396.1M365.85 1279.3H372.65M365.85 1396.1H372.65M404.34 1321.5V1420.9M400.94 1321.5H407.74M400.94 1420.9H407.74M440.61 1361.9V1441.7M437.21 1361.9H444.01M437.21 1441.7H444.01M475.7 1352.8V1462.8M472.3 1352.8H479.1M472.3 1462.8H479.1" stroke="#c2c2c2" stroke-width="1.8" fill="none"/>
<path d="M85.0 1394.0 L86.8 1393.2 L88.6 1392.4 L90.5 1391.6 L92.3 1390.8 L94.1 1390.0 L95.9 1389.2 L97.7 1388.5 L99.6 1387.8 L101.4 1387.1 L103.2 1386.4 L105.0 1385.8 L106.8 1385.2 L108.7 1384.6 L110.5 1384.1 L112.3 1383.6 L114.1 1383.1 L115.9 1382.7 L117.7 1382.3 L119.6 1382.0 L121.4 1381.7 L123.2 1381.4 L125.0 1381.2 L126.8 1381.1 L128.7 1381.0 L130.5 1380.9 L132.3 1380.9 L134.1 1380.9 L135.9 1381.0 L137.8 1381.1 L139.6 1381.2 L141.4 1381.4 L143.2 1381.7 L145.0 1381.9 L146.9 1382.2 L148.7 1382.5 L150.5 1382.9 L152.3 1383.3 L154.1 1383.7 L156.0 1384.2 L157.8 1384.7 L159.6 1385.2 L161.4 1385.7 L163.2 1386.3 L165.1 1386.8 L166.9 1387.4 L168.7 1388.0 L170.5 1388.6 L172.3 1389.2 L174.2 1389.8 L176.0 1390.4 L177.8 1391.0 L179.6 1391.6 L181.4 1392.1 L183.2 1392.7 L185.1 1393.2 L186.9 1393.7 L188.7 1394.2 L190.5 1394.7 L192.3 1395.1 L194.2 1395.5 L196.0 1395.8 L197.8 1396.1 L199.6 1396.4 L201.4 1396.6 L203.3 1396.8 L205.1 1397.0 L206.9 1397.1 L208.7 1397.1 L210.5 1397.1 L212.4 1397.1 L214.2 1397.0 L216.0 1396.8 L217.8 1396.6 L219.6 1396.3 L221.5 1396.0 L223.3 1395.6 L225.1 1395.1 L226.9 1394.5 L228.7 1393.9 L230.6 1393.3 L232.4 1392.5 L234.2 1391.7 L236.0 1390.9 L237.8 1390.0 L239.6 1389.0 L241.5 1388.0 L243.3 1386.9 L245.1 1385.8 L246.9 1384.6 L248.7 1383.4 L250.6 1382.1 L252.4 1380.8 L254.2 1379.4 L256.0 1378.0 L257.8 1376.6 L259.7 1375.1 L261.5 1373.6 L263.3 1372.1 L265.1 1370.5 L266.9 1368.9 L268.8 1367.3 L270.6 1365.7 L272.4 1364.0 L274.2 1362.3 L276.0 1360.7 L277.9 1359.0 L279.7 1357.3 L281.5 1355.6 L283.3 1354.0 L285.1 1352.3 L287.0 1350.7 L288.8 1349.1 L290.6 1347.5 L292.4 1345.9 L294.2 1344.4 L296.1 1342.9 L297.9 1341.4 L299.7 1340.0 L301.5 1338.6 L303.3 1337.2 L305.1 1335.9 L307.0 1334.7 L308.8 1333.5 L310.6 1332.4 L312.4 1331.3 L314.2 1330.3 L316.1 1329.4 L317.9 1328.5 L319.7 1327.7 L321.5 1327.0 L323.3 1326.3 L325.2 1325.7 L327.0 1325.2 L328.8 1324.8 L330.6 1324.5 L332.4 1324.3 L334.3 1324.1 L336.1 1324.1 L337.9 1324.1 L339.7 1324.2 L341.5 1324.4 L343.4 1324.7 L345.2 1325.1 L347.0 1325.5 L348.8 1326.1 L350.6 1326.7 L352.5 1327.4 L354.3 1328.2 L356.1 1329.0 L357.9 1330.0 L359.7 1331.0 L361.5 1332.0 L363.4 1333.2 L365.2 1334.4 L367.0 1335.6 L368.8 1337.0 L370.6 1338.4 L372.5 1339.8 L374.3 1341.4 L376.1 1342.9 L377.9 1344.5 L379.7 1346.2 L381.6 1347.9 L383.4 1349.6 L385.2 1351.4 L387.0 1353.2 L388.8 1355.0 L390.7 1356.9 L392.5 1358.7 L394.3 1360.6 L396.1 1362.5 L397.9 1364.3 L399.8 1366.2 L401.6 1368.1 L403.4 1369.9 L405.2 1371.8 L407.0 1373.6 L408.9 1375.4 L410.7 1377.2 L412.5 1379.0 L414.3 1380.7 L416.1 1382.4 L418.0 1384.1 L419.8 1385.7 L421.6 1387.3 L423.4 1388.9 L425.2 1390.4 L427.0 1391.9 L428.9 1393.3 L430.7 1394.6 L432.5 1395.9 L434.3 1397.2 L436.1 1398.4 L438.0 1399.5 L439.8 1400.5 L441.6 1401.5 L443.4 1402.4 L445.2 1403.3 L447.1 1404.1 L448.9 1404.8 L450.7 1405.4 L452.5 1406.0 L454.3 1406.5 L456.2 1406.9 L458.0 1407.3 L459.8 1407.6 L461.6 1407.8 L463.4 1408.0 L465.3 1408.1 L467.1 1408.2 L468.9 1408.1 L470.7 1408.1 L472.5 1407.9 L474.4 1407.7 L476.2 1407.4 L478.0 1407.1 L479.8 1406.7 L481.6 1406.2 L483.4 1405.7" stroke="#2424c4" stroke-width="1.4" fill="none"/>
<circle cx="85" cy="1394" r="4.7" fill="#000"/>
<circle cx="121.26" cy="1381.7" r="4.7" fill="#000"/>
<circle cx="154.02" cy="1383.7" r="4.7" fill="#000"/>
<circle cx="190.28" cy="1394.6" r="4.7" fill="#000"/>
<circle cx="225.37" cy="1395" r="4.7" fill="#000"/>
<circle cx="261.63" cy="1373.5" r="4.7" fill="#000"/>
<circle cx="296.73" cy="1342.3" r="4.7" fill="#000"/>
<circle cx="332.99" cy="1324.2" r="4.7" fill="#000"/>
<circle cx="369.25" cy="1337.3" r="4.7" fill="#000"/>
<circle cx="404.34" cy="1370.9" r="4.7" fill="#000"/>
<circle cx="440.61" cy="1401" r="4.7" fill="#000"/>
<circle cx="475.7" cy="1407.5" r="4.7" fill="#000"/>
<path d="M77 1121.2H484.2V1630.5H77Z" stroke="#333333" stroke-width="1.5" stroke-linejoin="round" fill="none"/>
<path d="M71.5 1121.2H77M71.5 1184.86H77M71.5 1248.53H77M71.5 1312.19H77M71.5 1375.85H77M71.5 1439.51H77M71.5 1503.17H77M71.5 1566.84H77M71.5 1630.5H77M85.3 1630.5V1635.8M120.82 1630.5V1635.8M156.34 1630.5V1635.8M191.85 1630.5V1635.8M227.37 1630.5V1635.8M262.89 1630.5V1635.8M298.41 1630.5V1635.8M333.93 1630.5V1635.8M369.45 1630.5V1635.8M404.96 1630.5V1635.8M440.48 1630.5V1635.8M476 1630.5V1635.8" stroke="#222" stroke-width="1.5" fill="none"/>
<text x="65.4" y="1126.4" text-anchor="end" font-size="14.7">0.8</text>
<text x="65.4" y="1190.06" text-anchor="end" font-size="14.7">0.6</text>
<text x="65.4" y="1253.73" text-anchor="end" font-size="14.7">0.4</text>
<text x="65.4" y="1317.39" text-anchor="end" font-size="14.7">0.2</text>
<text x="65.4" y="1381.05" text-anchor="end" font-size="14.7">0.0</text>
<text x="65.4" y="1444.71" text-anchor="end" font-size="14.7">-0.2</text>
<text x="65.4" y="1508.38" text-anchor="end" font-size="14.7">-0.4</text>
<text x="65.4" y="1572.04" text-anchor="end" font-size="14.7">-0.6</text>
<text x="65.4" y="1635.7" text-anchor="end" font-size="14.7">-0.8</text>
<text x="85.8" y="1653.1" text-anchor="middle" font-size="14.7">J</text>
<text x="122.02" y="1653.1" text-anchor="middle" font-size="14.7">F</text>
<text x="159.34" y="1653.1" text-anchor="middle" font-size="14.7">M</text>
<text x="192.15" y="1653.1" text-anchor="middle" font-size="14.7">A</text>
<text x="230.37" y="1653.1" text-anchor="middle" font-size="14.7">M</text>
<text x="263.39" y="1653.1" text-anchor="middle" font-size="14.7">J</text>
<text x="298.91" y="1653.1" text-anchor="middle" font-size="14.7">J</text>
<text x="334.23" y="1653.1" text-anchor="middle" font-size="14.7">A</text>
<text x="369.85" y="1653.1" text-anchor="middle" font-size="14.7">S</text>
<text x="406.96" y="1653.1" text-anchor="middle" font-size="14.7">O</text>
<text x="440.68" y="1653.1" text-anchor="middle" font-size="14.7">N</text>
<text x="478.3" y="1653.1" text-anchor="middle" font-size="14.7">D</text>
<text x="293.6" y="1149.9" text-anchor="middle" font-size="20.9" font-weight="bold" xml:space="preserve">Filtered for free troposphere</text>
<text x="291.8" y="1175" text-anchor="middle" font-size="20.9" font-weight="bold" xml:space="preserve">(2014–2018)</text>
<text transform="translate(22.5 1378) rotate(-90)" x="0" y="0" text-anchor="middle" font-size="17" xml:space="preserve">δ<tspan font-size="11.3" dy="-9.1">15</tspan><tspan dy="9.1">N</tspan><tspan font-size="11.3" dy="-9.1">bulk</tspan><tspan dy="9.1"> (‰)</tspan></text>
<text x="84" y="1610" font-size="35.5" letter-spacing="1.8">(g)</text>
</g>
<g id="ph">
<line x1="566.1" y1="1378.95" x2="973.4" y2="1378.95" stroke="#d69c9c" stroke-width="1.2" stroke-dasharray="13.5 4.7"/>
<path d="M574.3 1174.3V1412.7M570.9 1174.3H577.7M570.9 1412.7H577.7M610.54 1228.7V1429.1M607.14 1228.7H613.94M607.14 1429.1H613.94M643.28 1243.9V1458.6M639.88 1243.9H646.68M639.88 1458.6H646.68M679.52 1263.9V1454.9M676.12 1263.9H682.92M676.12 1454.9H682.92M714.6 1288.2V1455.3M711.2 1288.2H718M711.2 1455.3H718M750.84 1373.2V1449.6M747.44 1373.2H754.24M747.44 1449.6H754.24M785.92 1354.4V1577M782.52 1354.4H789.32M782.52 1577H789.32M822.16 1411V1583.8M818.76 1411H825.56M818.76 1583.8H825.56M858.41 1366.5V1574.8M855.01 1366.5H861.81M855.01 1574.8H861.81M893.48 1330.3V1462.3M890.08 1330.3H896.88M890.08 1462.3H896.88M929.73 1245.6V1386.4M926.33 1245.6H933.13M926.33 1386.4H933.13M964.8 1150.4V1408.2M961.4 1150.4H968.2M961.4 1408.2H968.2" stroke="#c2c2c2" stroke-width="1.8" fill="none"/>
<path d="M574.3 1293.5 L576.1 1295.1 L577.9 1296.8 L579.8 1298.5 L581.6 1300.3 L583.4 1302.1 L585.2 1303.9 L587.0 1305.7 L588.9 1307.6 L590.7 1309.4 L592.5 1311.3 L594.3 1313.2 L596.1 1315.1 L597.9 1316.9 L599.8 1318.8 L601.6 1320.6 L603.4 1322.4 L605.2 1324.2 L607.0 1326.0 L608.9 1327.7 L610.7 1329.4 L612.5 1331.1 L614.3 1332.7 L616.1 1334.2 L618.0 1335.7 L619.8 1337.2 L621.6 1338.6 L623.4 1340.0 L625.2 1341.3 L627.0 1342.6 L628.9 1343.8 L630.7 1345.0 L632.5 1346.1 L634.3 1347.1 L636.1 1348.1 L638.0 1349.1 L639.8 1350.0 L641.6 1350.8 L643.4 1351.6 L645.2 1352.3 L647.1 1352.9 L648.9 1353.5 L650.7 1354.1 L652.5 1354.6 L654.3 1355.1 L656.2 1355.5 L658.0 1355.9 L659.8 1356.3 L661.6 1356.6 L663.4 1356.9 L665.2 1357.2 L667.1 1357.5 L668.9 1357.8 L670.7 1358.1 L672.5 1358.3 L674.3 1358.6 L676.2 1358.8 L678.0 1359.1 L679.8 1359.3 L681.6 1359.6 L683.4 1359.9 L685.3 1360.2 L687.1 1360.6 L688.9 1360.9 L690.7 1361.3 L692.5 1361.8 L694.4 1362.3 L696.2 1362.8 L698.0 1363.4 L699.8 1364.0 L701.6 1364.7 L703.4 1365.4 L705.3 1366.2 L707.1 1367.1 L708.9 1368.0 L710.7 1369.0 L712.5 1370.1 L714.4 1371.3 L716.2 1372.6 L718.0 1374.0 L719.8 1375.4 L721.6 1377.0 L723.5 1378.6 L725.3 1380.3 L727.1 1382.0 L728.9 1383.9 L730.7 1385.8 L732.5 1387.8 L734.4 1389.9 L736.2 1392.0 L738.0 1394.2 L739.8 1396.5 L741.6 1398.9 L743.5 1401.3 L745.3 1403.7 L747.1 1406.2 L748.9 1408.8 L750.7 1411.4 L752.6 1414.1 L754.4 1416.9 L756.2 1419.6 L758.0 1422.4 L759.8 1425.3 L761.7 1428.2 L763.5 1431.0 L765.3 1433.9 L767.1 1436.8 L768.9 1439.7 L770.7 1442.6 L772.6 1445.5 L774.4 1448.4 L776.2 1451.2 L778.0 1454.0 L779.8 1456.8 L781.7 1459.5 L783.5 1462.2 L785.3 1464.8 L787.1 1467.4 L788.9 1469.9 L790.8 1472.3 L792.6 1474.7 L794.4 1476.9 L796.2 1479.1 L798.0 1481.2 L799.8 1483.2 L801.7 1485.1 L803.5 1486.9 L805.3 1488.5 L807.1 1490.1 L808.9 1491.5 L810.8 1492.8 L812.6 1493.9 L814.4 1494.9 L816.2 1495.7 L818.0 1496.4 L819.9 1497.0 L821.7 1497.3 L823.5 1497.5 L825.3 1497.5 L827.1 1497.4 L829.0 1497.1 L830.8 1496.6 L832.6 1495.9 L834.4 1495.1 L836.2 1494.2 L838.0 1493.0 L839.9 1491.7 L841.7 1490.3 L843.5 1488.7 L845.3 1486.9 L847.1 1485.0 L849.0 1482.9 L850.8 1480.7 L852.6 1478.4 L854.4 1475.9 L856.2 1473.2 L858.1 1470.5 L859.9 1467.5 L861.7 1464.5 L863.5 1461.3 L865.3 1458.0 L867.2 1454.6 L869.0 1451.0 L870.8 1447.4 L872.6 1443.7 L874.4 1439.9 L876.2 1436.0 L878.1 1432.0 L879.9 1428.0 L881.7 1423.9 L883.5 1419.7 L885.3 1415.5 L887.2 1411.3 L889.0 1407.0 L890.8 1402.7 L892.6 1398.4 L894.4 1394.0 L896.3 1389.7 L898.1 1385.3 L899.9 1380.9 L901.7 1376.6 L903.5 1372.3 L905.3 1368.0 L907.2 1363.7 L909.0 1359.5 L910.8 1355.3 L912.6 1351.2 L914.4 1347.1 L916.3 1343.1 L918.1 1339.1 L919.9 1335.3 L921.7 1331.5 L923.5 1327.8 L925.4 1324.2 L927.2 1320.8 L929.0 1317.4 L930.8 1314.2 L932.6 1311.1 L934.5 1308.1 L936.3 1305.2 L938.1 1302.5 L939.9 1299.9 L941.7 1297.4 L943.5 1295.1 L945.4 1292.9 L947.2 1290.9 L949.0 1288.9 L950.8 1287.2 L952.6 1285.6 L954.5 1284.1 L956.3 1282.8 L958.1 1281.6 L959.9 1280.6 L961.7 1279.8 L963.6 1279.1 L965.4 1278.6 L967.2 1278.2 L969.0 1278.0 L970.8 1277.9 L972.6 1278.0" stroke="#2424c4" stroke-width="1.4" fill="none"/>
<circle cx="574.3" cy="1293.5" r="4.7" fill="#000"/>
<circle cx="610.54" cy="1329.3" r="4.7" fill="#000"/>
<circle cx="643.28" cy="1351.5" r="4.7" fill="#000"/>
<circle cx="679.52" cy="1359.3" r="4.7" fill="#000"/>
<circle cx="714.6" cy="1371.5" r="4.7" fill="#000"/>
<circle cx="750.84" cy="1411.6" r="4.7" fill="#000"/>
<circle cx="785.92" cy="1465.7" r="4.7" fill="#000"/>
<circle cx="822.16" cy="1497.4" r="4.7" fill="#000"/>
<circle cx="858.41" cy="1469.9" r="4.7" fill="#000"/>
<circle cx="893.48" cy="1396.3" r="4.7" fill="#000"/>
<circle cx="929.73" cy="1316.1" r="4.7" fill="#000"/>
<circle cx="964.8" cy="1278.7" r="4.7" fill="#000"/>
<path d="M566.1 1124.4H973.4V1633.5H566.1Z" stroke="#333333" stroke-width="1.5" stroke-linejoin="round" fill="none"/>
<path d="M560.6 1124.4H566.1M560.6 1188.04H566.1M560.6 1251.68H566.1M560.6 1315.31H566.1M560.6 1378.95H566.1M560.6 1442.59H566.1M560.6 1506.22H566.1M560.6 1569.86H566.1M560.6 1633.5H566.1M574.6 1633.5V1638.8M610.1 1633.5V1638.8M645.6 1633.5V1638.8M681.1 1633.5V1638.8M716.6 1633.5V1638.8M752.1 1633.5V1638.8M787.6 1633.5V1638.8M823.1 1633.5V1638.8M858.6 1633.5V1638.8M894.1 1633.5V1638.8M929.6 1633.5V1638.8M965.1 1633.5V1638.8" stroke="#222" stroke-width="1.5" fill="none"/>
<text x="554.5" y="1129.6" text-anchor="end" font-size="14.7">0.8</text>
<text x="554.5" y="1193.24" text-anchor="end" font-size="14.7">0.6</text>
<text x="554.5" y="1256.88" text-anchor="end" font-size="14.7">0.4</text>
<text x="554.5" y="1320.51" text-anchor="end" font-size="14.7">0.2</text>
<text x="554.5" y="1384.15" text-anchor="end" font-size="14.7">0.0</text>
<text x="554.5" y="1447.79" text-anchor="end" font-size="14.7">-0.2</text>
<text x="554.5" y="1511.42" text-anchor="end" font-size="14.7">-0.4</text>
<text x="554.5" y="1575.06" text-anchor="end" font-size="14.7">-0.6</text>
<text x="554.5" y="1638.7" text-anchor="end" font-size="14.7">-0.8</text>
<text x="575.1" y="1656.1" text-anchor="middle" font-size="14.7">J</text>
<text x="611.3" y="1656.1" text-anchor="middle" font-size="14.7">F</text>
<text x="648.6" y="1656.1" text-anchor="middle" font-size="14.7">M</text>
<text x="681.4" y="1656.1" text-anchor="middle" font-size="14.7">A</text>
<text x="719.6" y="1656.1" text-anchor="middle" font-size="14.7">M</text>
<text x="752.6" y="1656.1" text-anchor="middle" font-size="14.7">J</text>
<text x="788.1" y="1656.1" text-anchor="middle" font-size="14.7">J</text>
<text x="823.4" y="1656.1" text-anchor="middle" font-size="14.7">A</text>
<text x="859" y="1656.1" text-anchor="middle" font-size="14.7">S</text>
<text x="896.1" y="1656.1" text-anchor="middle" font-size="14.7">O</text>
<text x="929.8" y="1656.1" text-anchor="middle" font-size="14.7">N</text>
<text x="967.4" y="1656.1" text-anchor="middle" font-size="14.7">D</text>
<text x="773" y="1150" text-anchor="middle" font-size="20.9" font-weight="bold" xml:space="preserve">Filtered for free troposphere</text>
<text x="771.4" y="1174.1" text-anchor="middle" font-size="20.9" font-weight="bold" xml:space="preserve">(2014–2018)</text>
<text transform="translate(517.2 1381.4) rotate(-90)" x="0" y="0" text-anchor="middle" font-size="17" xml:space="preserve">δ<tspan font-size="11.3" dy="-9.1">15</tspan><tspan dy="9.1">N</tspan><tspan font-size="11.3" dy="-9.1">SP</tspan><tspan dy="9.1"> (‰)</tspan></text>
<text x="575.1" y="1613.3" font-size="35.5" letter-spacing="1.8">(h)</text>
</g>
<g id="pi">
<line x1="1054.4" y1="1378.95" x2="1461.9" y2="1378.95" stroke="#d69c9c" stroke-width="1.2" stroke-dasharray="13.5 4.7"/>
<path d="M1062.7 1316.8V1374.2M1059.3 1316.8H1066.1M1059.3 1374.2H1066.1M1098.95 1342.1V1390.5M1095.55 1342.1H1102.35M1095.55 1390.5H1102.35M1131.7 1332.6V1435.8M1128.3 1332.6H1135.1M1128.3 1435.8H1135.1M1167.95 1336.4V1448.3M1164.55 1336.4H1171.35M1164.55 1448.3H1171.35M1203.04 1357.7V1425.3M1199.64 1357.7H1206.44M1199.64 1425.3H1206.44M1239.29 1349.1V1434M1235.89 1349.1H1242.69M1235.89 1434H1242.69M1274.37 1343.4V1453.1M1270.97 1343.4H1277.77M1270.97 1453.1H1277.77M1310.63 1361V1448.9M1307.23 1361H1314.03M1307.23 1448.9H1314.03M1346.88 1360.2V1439.6M1343.48 1360.2H1350.28M1343.48 1439.6H1350.28M1381.96 1332.7V1426.8M1378.56 1332.7H1385.36M1378.56 1426.8H1385.36M1418.22 1316.9V1389.5M1414.82 1316.9H1421.62M1414.82 1389.5H1421.62M1453.3 1292.1V1385.8M1449.9 1292.1H1456.7M1449.9 1385.8H1456.7" stroke="#c2c2c2" stroke-width="1.8" fill="none"/>
<path d="M1062.7 1345.4 L1064.5 1346.2 L1066.3 1347.1 L1068.2 1348.0 L1070.0 1348.9 L1071.8 1349.8 L1073.6 1350.8 L1075.4 1351.8 L1077.3 1352.8 L1079.1 1353.9 L1080.9 1354.9 L1082.7 1356.0 L1084.5 1357.1 L1086.4 1358.2 L1088.2 1359.3 L1090.0 1360.4 L1091.8 1361.6 L1093.6 1362.7 L1095.4 1363.8 L1097.3 1365.0 L1099.1 1366.1 L1100.9 1367.2 L1102.7 1368.3 L1104.5 1369.4 L1106.4 1370.5 L1108.2 1371.6 L1110.0 1372.7 L1111.8 1373.7 L1113.6 1374.8 L1115.5 1375.8 L1117.3 1376.8 L1119.1 1377.7 L1120.9 1378.7 L1122.7 1379.6 L1124.6 1380.5 L1126.4 1381.4 L1128.2 1382.2 L1130.0 1383.0 L1131.8 1383.8 L1133.7 1384.5 L1135.5 1385.2 L1137.3 1385.8 L1139.1 1386.5 L1140.9 1387.0 L1142.8 1387.6 L1144.6 1388.1 L1146.4 1388.6 L1148.2 1389.0 L1150.0 1389.5 L1151.9 1389.9 L1153.7 1390.2 L1155.5 1390.5 L1157.3 1390.8 L1159.1 1391.1 L1160.9 1391.3 L1162.8 1391.6 L1164.6 1391.7 L1166.4 1391.9 L1168.2 1392.0 L1170.0 1392.1 L1171.9 1392.2 L1173.7 1392.2 L1175.5 1392.3 L1177.3 1392.3 L1179.1 1392.3 L1181.0 1392.3 L1182.8 1392.2 L1184.6 1392.2 L1186.4 1392.1 L1188.2 1392.0 L1190.1 1391.9 L1191.9 1391.8 L1193.7 1391.7 L1195.5 1391.6 L1197.3 1391.5 L1199.2 1391.4 L1201.0 1391.3 L1202.8 1391.2 L1204.6 1391.1 L1206.4 1391.0 L1208.3 1390.9 L1210.1 1390.8 L1211.9 1390.8 L1213.7 1390.7 L1215.5 1390.6 L1217.3 1390.6 L1219.2 1390.5 L1221.0 1390.5 L1222.8 1390.5 L1224.6 1390.5 L1226.4 1390.5 L1228.3 1390.6 L1230.1 1390.6 L1231.9 1390.7 L1233.7 1390.8 L1235.5 1390.9 L1237.4 1391.0 L1239.2 1391.2 L1241.0 1391.4 L1242.8 1391.6 L1244.6 1391.8 L1246.5 1392.1 L1248.3 1392.3 L1250.1 1392.6 L1251.9 1392.9 L1253.7 1393.2 L1255.6 1393.6 L1257.4 1393.9 L1259.2 1394.3 L1261.0 1394.7 L1262.8 1395.1 L1264.7 1395.5 L1266.5 1395.9 L1268.3 1396.3 L1270.1 1396.8 L1271.9 1397.2 L1273.8 1397.6 L1275.6 1398.1 L1277.4 1398.5 L1279.2 1399.0 L1281.0 1399.5 L1282.8 1399.9 L1284.7 1400.3 L1286.5 1400.8 L1288.3 1401.2 L1290.1 1401.6 L1291.9 1402.0 L1293.8 1402.4 L1295.6 1402.8 L1297.4 1403.1 L1299.2 1403.5 L1301.0 1403.8 L1302.9 1404.0 L1304.7 1404.3 L1306.5 1404.5 L1308.3 1404.7 L1310.1 1404.9 L1312.0 1405.0 L1313.8 1405.1 L1315.6 1405.1 L1317.4 1405.1 L1319.2 1405.1 L1321.1 1405.0 L1322.9 1404.9 L1324.7 1404.8 L1326.5 1404.6 L1328.3 1404.3 L1330.2 1404.1 L1332.0 1403.8 L1333.8 1403.4 L1335.6 1403.0 L1337.4 1402.6 L1339.2 1402.1 L1341.1 1401.6 L1342.9 1401.0 L1344.7 1400.4 L1346.5 1399.7 L1348.3 1399.0 L1350.2 1398.3 L1352.0 1397.5 L1353.8 1396.7 L1355.6 1395.8 L1357.4 1394.9 L1359.3 1393.9 L1361.1 1393.0 L1362.9 1391.9 L1364.7 1390.9 L1366.5 1389.8 L1368.4 1388.7 L1370.2 1387.5 L1372.0 1386.4 L1373.8 1385.2 L1375.6 1383.9 L1377.5 1382.7 L1379.3 1381.4 L1381.1 1380.1 L1382.9 1378.8 L1384.7 1377.5 L1386.6 1376.1 L1388.4 1374.8 L1390.2 1373.4 L1392.0 1372.0 L1393.8 1370.6 L1395.7 1369.3 L1397.5 1367.9 L1399.3 1366.5 L1401.1 1365.1 L1402.9 1363.8 L1404.7 1362.4 L1406.6 1361.1 L1408.4 1359.7 L1410.2 1358.4 L1412.0 1357.2 L1413.8 1355.9 L1415.7 1354.7 L1417.5 1353.5 L1419.3 1352.3 L1421.1 1351.2 L1422.9 1350.1 L1424.8 1349.0 L1426.6 1348.0 L1428.4 1347.0 L1430.2 1346.1 L1432.0 1345.2 L1433.9 1344.4 L1435.7 1343.6 L1437.5 1342.8 L1439.3 1342.2 L1441.1 1341.5 L1443.0 1340.9 L1444.8 1340.4 L1446.6 1339.9 L1448.4 1339.5 L1450.2 1339.2 L1452.1 1338.9 L1453.9 1338.6 L1455.7 1338.5 L1457.5 1338.4 L1459.3 1338.3 L1461.2 1338.3" stroke="#2424c4" stroke-width="1.4" fill="none"/>
<circle cx="1062.7" cy="1345.4" r="4.7" fill="#000"/>
<circle cx="1098.95" cy="1366" r="4.7" fill="#000"/>
<circle cx="1131.7" cy="1383.7" r="4.7" fill="#000"/>
<circle cx="1167.95" cy="1392" r="4.7" fill="#000"/>
<circle cx="1203.04" cy="1391.2" r="4.7" fill="#000"/>
<circle cx="1239.29" cy="1391.2" r="4.7" fill="#000"/>
<circle cx="1274.37" cy="1397.8" r="4.7" fill="#000"/>
<circle cx="1310.63" cy="1404.9" r="4.7" fill="#000"/>
<circle cx="1346.88" cy="1399.6" r="4.7" fill="#000"/>
<circle cx="1381.96" cy="1379.5" r="4.7" fill="#000"/>
<circle cx="1418.22" cy="1353" r="4.7" fill="#000"/>
<circle cx="1453.3" cy="1338.7" r="4.7" fill="#000"/>
<path d="M1054.4 1124.4H1461.9V1633.5H1054.4Z" stroke="#333333" stroke-width="1.5" stroke-linejoin="round" fill="none"/>
<path d="M1048.9 1124.4H1054.4M1048.9 1188.04H1054.4M1048.9 1251.68H1054.4M1048.9 1315.31H1054.4M1048.9 1378.95H1054.4M1048.9 1442.59H1054.4M1048.9 1506.22H1054.4M1048.9 1569.86H1054.4M1048.9 1633.5H1054.4M1063 1633.5V1638.8M1098.51 1633.5V1638.8M1134.02 1633.5V1638.8M1169.53 1633.5V1638.8M1205.04 1633.5V1638.8M1240.55 1633.5V1638.8M1276.05 1633.5V1638.8M1311.56 1633.5V1638.8M1347.07 1633.5V1638.8M1382.58 1633.5V1638.8M1418.09 1633.5V1638.8M1453.6 1633.5V1638.8" stroke="#222" stroke-width="1.5" fill="none"/>
<text x="1042.8" y="1129.6" text-anchor="end" font-size="14.7">0.8</text>
<text x="1042.8" y="1193.24" text-anchor="end" font-size="14.7">0.6</text>
<text x="1042.8" y="1256.88" text-anchor="end" font-size="14.7">0.4</text>
<text x="1042.8" y="1320.51" text-anchor="end" font-size="14.7">0.2</text>
<text x="1042.8" y="1384.15" text-anchor="end" font-size="14.7">0.0</text>
<text x="1042.8" y="1447.79" text-anchor="end" font-size="14.7">-0.2</text>
<text x="1042.8" y="1511.42" text-anchor="end" font-size="14.7">-0.4</text>
<text x="1042.8" y="1575.06" text-anchor="end" font-size="14.7">-0.6</text>
<text x="1042.8" y="1638.7" text-anchor="end" font-size="14.7">-0.8</text>
<text x="1063.5" y="1655.9" text-anchor="middle" font-size="14.7">J</text>
<text x="1099.71" y="1655.9" text-anchor="middle" font-size="14.7">F</text>
<text x="1137.02" y="1655.9" text-anchor="middle" font-size="14.7">M</text>
<text x="1169.83" y="1655.9" text-anchor="middle" font-size="14.7">A</text>
<text x="1208.04" y="1655.9" text-anchor="middle" font-size="14.7">M</text>
<text x="1241.05" y="1655.9" text-anchor="middle" font-size="14.7">J</text>
<text x="1276.55" y="1655.9" text-anchor="middle" font-size="14.7">J</text>
<text x="1311.86" y="1655.9" text-anchor="middle" font-size="14.7">A</text>
<text x="1347.47" y="1655.9" text-anchor="middle" font-size="14.7">S</text>
<text x="1384.58" y="1655.9" text-anchor="middle" font-size="14.7">O</text>
<text x="1418.29" y="1655.9" text-anchor="middle" font-size="14.7">N</text>
<text x="1455.9" y="1655.9" text-anchor="middle" font-size="14.7">D</text>
<text x="1263" y="1150" text-anchor="middle" font-size="20.9" font-weight="bold" xml:space="preserve">Filtered for free troposphere</text>
<text x="1261.4" y="1174.1" text-anchor="middle" font-size="20.9" font-weight="bold" xml:space="preserve">(2014–2018)</text>
<text transform="translate(1005.4 1378.8) rotate(-90)" x="0" y="0" text-anchor="middle" font-size="17" xml:space="preserve">δ<tspan font-size="10.3" dy="-9.2">18</tspan><tspan dy="9.2">O</tspan><tspan> (‰)</tspan></text>
<text x="1063.1" y="1613.3" font-size="35.5" letter-spacing="1.8">(i)</text>
</g>
</svg></body></html>
